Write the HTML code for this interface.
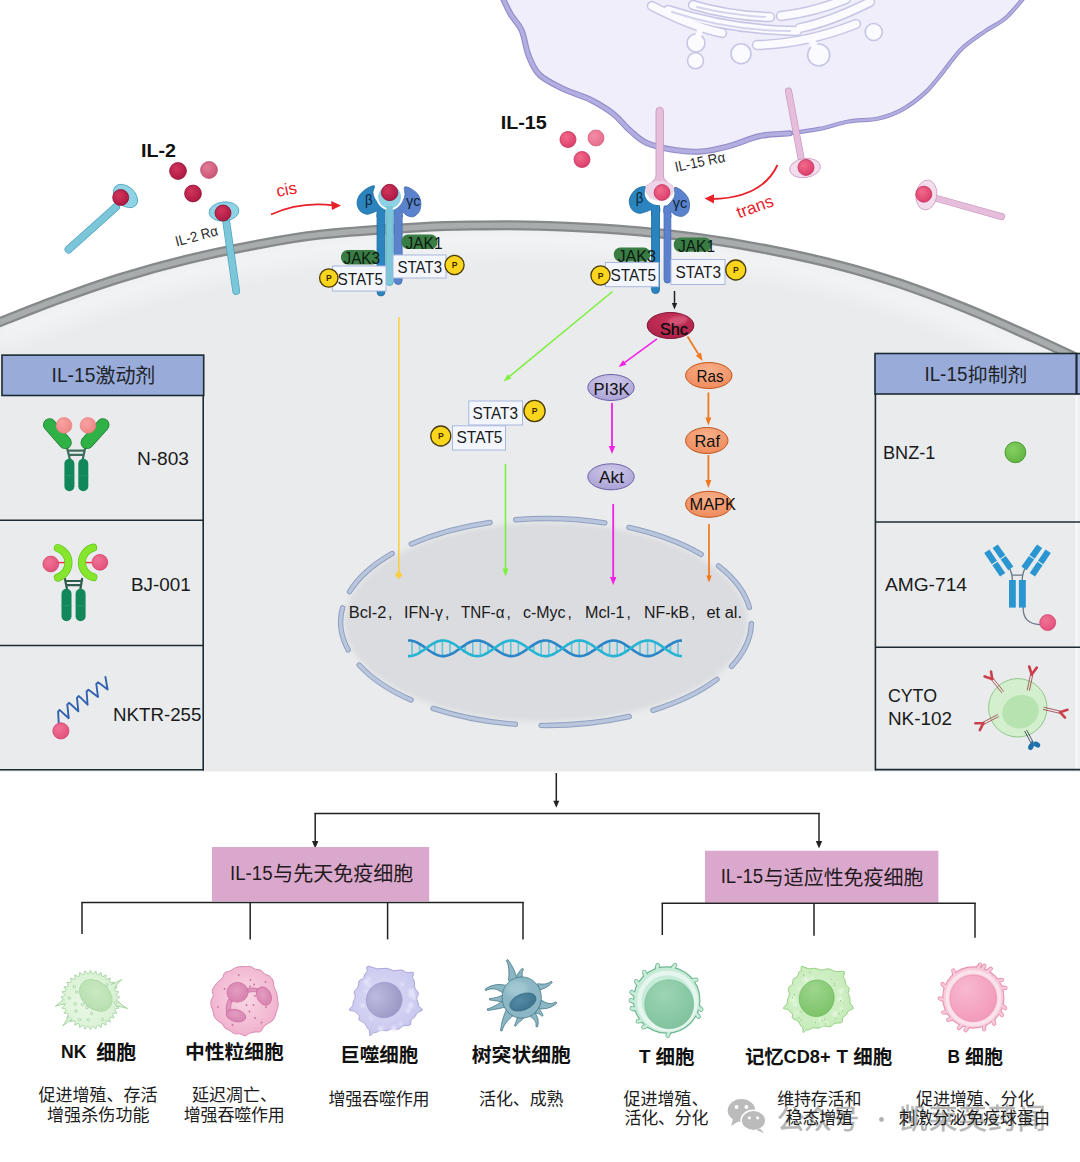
<!DOCTYPE html><html lang="zh"><head><meta charset="utf-8"><title>IL-15 signaling</title><style>html,body{margin:0;padding:0;background:#fff}body{width:1080px;height:1162px;overflow:hidden;font-family:"Liberation Sans","Noto Sans CJK SC",sans-serif}svg{display:block}</style></head><body><svg width="1080" height="1162" viewBox="0 0 1080 1162" font-family="'Liberation Sans', 'Noto Sans CJK SC', sans-serif"><defs><clipPath id="cellclip"><path d="M-4.0 323.5C-3.3 323.2 -10.7 326.1 0.0 322.0C10.7 317.9 40.0 306.1 60.0 298.8C80.0 291.5 98.9 284.6 120.0 278.1C141.1 271.6 164.5 265.1 186.7 259.7C208.9 254.2 231.1 249.6 253.3 245.4C275.5 241.2 292.2 237.6 320.0 234.6C347.8 231.6 393.3 228.7 420.0 227.2C446.7 225.7 460.0 225.7 480.0 225.4C500.0 225.2 516.7 225.0 540.0 225.7C563.3 226.4 593.3 227.7 620.0 229.8C646.7 231.9 675.0 234.9 700.0 238.3C725.0 241.7 746.5 245.4 770.0 250.0C793.5 254.6 819.0 260.2 840.7 265.8C862.4 271.4 879.0 276.5 900.0 283.6C921.0 290.8 944.5 299.7 966.7 308.7C988.9 317.7 1014.8 329.5 1033.3 337.8C1051.8 346.1 1070.5 355.1 1078.0 358.6 L1082 360 L1082 771.5 L-4 771.5 Z"/></clipPath><filter id="glow" x="-5%" y="-50%" width="110%" height="200%"><feGaussianBlur stdDeviation="9"/></filter><filter id="nbl" x="-10%" y="-10%" width="120%" height="120%"><feGaussianBlur stdDeviation="2.5"/></filter><radialGradient id="rg8" cx="0.38" cy="0.35" r="0.75"><stop offset="0" stop-color="#f7a3a0"/><stop offset="1" stop-color="#ee8484"/></radialGradient><radialGradient id="rg9" cx="0.38" cy="0.35" r="0.75"><stop offset="0" stop-color="#f7a3a0"/><stop offset="1" stop-color="#ee8484"/></radialGradient><radialGradient id="rg10" cx="0.38" cy="0.35" r="0.75"><stop offset="0" stop-color="#f07396"/><stop offset="1" stop-color="#e24d78"/></radialGradient><radialGradient id="rg11" cx="0.38" cy="0.35" r="0.75"><stop offset="0" stop-color="#f07396"/><stop offset="1" stop-color="#e24d78"/></radialGradient><radialGradient id="rg12" cx="0.38" cy="0.35" r="0.75"><stop offset="0" stop-color="#f07396"/><stop offset="1" stop-color="#e24d78"/></radialGradient><radialGradient id="rg13" cx="0.38" cy="0.35" r="0.75"><stop offset="0" stop-color="#86cf62"/><stop offset="1" stop-color="#5fb340"/></radialGradient><radialGradient id="rg14" cx="0.38" cy="0.35" r="0.75"><stop offset="0" stop-color="#f07396"/><stop offset="1" stop-color="#e24d78"/></radialGradient><radialGradient id="rg15" cx="0.38" cy="0.35" r="0.75"><stop offset="0" stop-color="#d2345c"/><stop offset="1" stop-color="#a8173f"/></radialGradient><radialGradient id="rg16" cx="0.38" cy="0.35" r="0.75"><stop offset="0" stop-color="#e27b95"/><stop offset="1" stop-color="#c85274"/></radialGradient><radialGradient id="rg17" cx="0.38" cy="0.35" r="0.75"><stop offset="0" stop-color="#d2345c"/><stop offset="1" stop-color="#a8173f"/></radialGradient><radialGradient id="rg18" cx="0.38" cy="0.35" r="0.75"><stop offset="0" stop-color="#f26a8c"/><stop offset="1" stop-color="#d93a66"/></radialGradient><radialGradient id="rg19" cx="0.38" cy="0.35" r="0.75"><stop offset="0" stop-color="#f28da6"/><stop offset="1" stop-color="#e56a8a"/></radialGradient><radialGradient id="rg20" cx="0.38" cy="0.35" r="0.75"><stop offset="0" stop-color="#f26a8c"/><stop offset="1" stop-color="#d93a66"/></radialGradient><radialGradient id="rg21" cx="0.38" cy="0.35" r="0.75"><stop offset="0" stop-color="#d2345c"/><stop offset="1" stop-color="#a8173f"/></radialGradient><radialGradient id="rg22" cx="0.38" cy="0.35" r="0.75"><stop offset="0" stop-color="#d2345c"/><stop offset="1" stop-color="#a8173f"/></radialGradient><radialGradient id="rg23" cx="0.38" cy="0.35" r="0.75"><stop offset="0" stop-color="#d2345c"/><stop offset="1" stop-color="#a8173f"/></radialGradient><radialGradient id="rg24" cx="0.38" cy="0.35" r="0.75"><stop offset="0" stop-color="#f26a8c"/><stop offset="1" stop-color="#d93a66"/></radialGradient><radialGradient id="rg25" cx="0.38" cy="0.35" r="0.75"><stop offset="0" stop-color="#f26a8c"/><stop offset="1" stop-color="#d93a66"/></radialGradient><radialGradient id="rg26" cx="0.38" cy="0.35" r="0.75"><stop offset="0" stop-color="#f26a8c"/><stop offset="1" stop-color="#d93a66"/></radialGradient><radialGradient id="eg27" cx="0.5" cy="0.3" r="0.8"><stop offset="0" stop-color="#c9335a"/><stop offset="1" stop-color="#a91f46"/></radialGradient><radialGradient id="eg28" cx="0.5" cy="0.3" r="0.8"><stop offset="0" stop-color="#cfc9ea"/><stop offset="1" stop-color="#a59dd2"/></radialGradient><radialGradient id="eg29" cx="0.5" cy="0.3" r="0.8"><stop offset="0" stop-color="#cfc9ea"/><stop offset="1" stop-color="#a59dd2"/></radialGradient><radialGradient id="eg30" cx="0.5" cy="0.3" r="0.8"><stop offset="0" stop-color="#f7b08a"/><stop offset="1" stop-color="#ee8656"/></radialGradient><radialGradient id="eg31" cx="0.5" cy="0.3" r="0.8"><stop offset="0" stop-color="#f7b08a"/><stop offset="1" stop-color="#ee8656"/></radialGradient><radialGradient id="eg32" cx="0.5" cy="0.3" r="0.8"><stop offset="0" stop-color="#f7b08a"/><stop offset="1" stop-color="#ee8656"/></radialGradient><filter id="bl1" x="-20%" y="-20%" width="140%" height="140%"><feGaussianBlur stdDeviation="1.2"/></filter><filter id="bl2" x="-20%" y="-20%" width="140%" height="140%"><feGaussianBlur stdDeviation="2.2"/></filter><radialGradient id="cg99" cx="0.4" cy="0.55" r="0.7"><stop offset="0" stop-color="#eaf8e6"/><stop offset="1" stop-color="#d3efce"/></radialGradient><radialGradient id="cg100" cx="0.45" cy="0.4" r="0.8"><stop offset="0" stop-color="#c9e9c2"/><stop offset="1" stop-color="#b3dcab"/></radialGradient><radialGradient id="cg101" cx="0.5" cy="0.45" r="0.62"><stop offset="0" stop-color="#f9d8e5"/><stop offset="1" stop-color="#efaccb"/></radialGradient><radialGradient id="cg102" cx="0.45" cy="0.4" r="0.8"><stop offset="0" stop-color="#e39dc1"/><stop offset="1" stop-color="#d47aa9"/></radialGradient><radialGradient id="cg103" cx="0.45" cy="0.45" r="0.7"><stop offset="0" stop-color="#dddcf7"/><stop offset="1" stop-color="#c3c1ec"/></radialGradient><radialGradient id="cg104" cx="0.35" cy="0.3" r="0.8"><stop offset="0" stop-color="#bdbadf"/><stop offset="1" stop-color="#9895c4"/></radialGradient><radialGradient id="cg105" cx="0.4" cy="0.35" r="0.8"><stop offset="0" stop-color="#548aa4"/><stop offset="1" stop-color="#3a6f8a"/></radialGradient><radialGradient id="cg106" cx="0.4" cy="0.3" r="0.85"><stop offset="0" stop-color="#9cd4b4"/><stop offset="1" stop-color="#7cc09a"/></radialGradient><radialGradient id="cg107" cx="0.45" cy="0.45" r="0.7"><stop offset="0" stop-color="#d9f3d0"/><stop offset="1" stop-color="#c0e9b3"/></radialGradient><radialGradient id="cg108" cx="0.35" cy="0.3" r="0.85"><stop offset="0" stop-color="#9ed68c"/><stop offset="1" stop-color="#78c064"/></radialGradient><radialGradient id="cg109" cx="0.35" cy="0.3" r="0.85"><stop offset="0" stop-color="#f8b9d0"/><stop offset="1" stop-color="#f195b6"/></radialGradient></defs><rect width="1080" height="1162" fill="#ffffff"/>
<path d="M500.8 -6.0C502.4 -2.7 507.0 7.8 510.5 13.9C514.0 20.0 518.7 23.6 521.7 30.5C524.7 37.4 525.6 48.1 528.6 55.5C531.6 62.9 533.9 69.4 539.7 75.0C545.5 80.6 554.8 84.7 563.3 88.9C571.8 93.1 582.7 95.8 591.0 100.0C599.3 104.2 606.8 108.8 613.3 113.9C619.8 119.0 624.4 125.7 630.0 130.5C635.6 135.3 639.3 139.8 646.7 143.0C654.1 146.2 665.2 148.6 674.4 150.0C683.6 151.4 692.7 152.1 702.0 151.4C711.3 150.7 720.3 148.4 730.0 145.8C739.7 143.2 750.1 138.1 760.0 136.0C769.9 133.9 779.7 134.5 789.6 133.3C799.5 132.1 809.4 130.9 819.3 128.9C829.2 126.9 839.0 123.2 848.9 121.5C858.8 119.8 869.6 120.5 878.5 118.5C887.4 116.5 894.3 114.0 902.2 109.6C910.1 105.2 919.1 98.3 926.0 91.9C932.9 85.5 937.8 78.3 943.7 71.1C949.6 63.9 954.6 55.6 961.5 48.9C968.4 42.2 977.8 36.3 985.2 31.1C992.6 25.9 999.0 24.0 1006.0 17.8C1013.0 11.6 1023.5 -2.0 1027.0 -6.0 L1027 -20 L500 -20 Z" fill="#efeefa"/>
<g fill="none" stroke-linecap="round" stroke-linejoin="round">
<path d="M652 6 Q690 26 722 33" stroke="#c6c5e6" stroke-width="10.4"/>
<path d="M668 10 Q730 30 797 31" stroke="#c6c5e6" stroke-width="10.4"/>
<path d="M693 5 Q730 16 770 17" stroke="#c6c5e6" stroke-width="10.4"/>
<path d="M781 16 Q815 12 846 -1" stroke="#c6c5e6" stroke-width="10.4"/>
<path d="M757 45 Q805 44 856 24" stroke="#c6c5e6" stroke-width="10.4"/>
<path d="M800 28 Q830 22 870 2" stroke="#c6c5e6" stroke-width="10.4"/>
<path d="M652 6 Q690 26 722 33" stroke="#fafaff" stroke-width="7.4"/>
<path d="M668 10 Q730 30 797 31" stroke="#fafaff" stroke-width="7.4"/>
<path d="M693 5 Q730 16 770 17" stroke="#fafaff" stroke-width="7.4"/>
<path d="M781 16 Q815 12 846 -1" stroke="#fafaff" stroke-width="7.4"/>
<path d="M757 45 Q805 44 856 24" stroke="#fafaff" stroke-width="7.4"/>
<path d="M800 28 Q830 22 870 2" stroke="#fafaff" stroke-width="7.4"/>
<path d="M672 12 Q730 31 790 31" stroke="#d5d4ee" stroke-width="2"/>
<path d="M697 7 Q730 15 765 17" stroke="#d5d4ee" stroke-width="2"/>
</g>
<circle cx="695.5" cy="60.7" r="8.0" fill="#fafaff" stroke="#c6c5e6" stroke-width="1.6"/>
<circle cx="741.0" cy="53.7" r="10.0" fill="#fafaff" stroke="#c6c5e6" stroke-width="1.6"/>
<circle cx="873.7" cy="32.0" r="8.5" fill="#fafaff" stroke="#c6c5e6" stroke-width="1.6"/>
<circle cx="696.0" cy="43.0" r="9.0" fill="#fafaff" stroke="#c6c5e6" stroke-width="1.6"/>
<circle cx="818.7" cy="55.0" r="11.0" fill="#fafaff" stroke="#c6c5e6" stroke-width="1.6"/>
<path d="M700 30 L697 40" stroke="#fafaff" stroke-width="6" stroke-linecap="round"/>
<path d="M812 42 L817 50" stroke="#fafaff" stroke-width="7" stroke-linecap="round"/>
<path d="M730.0 145.8C735.0 144.2 750.1 138.1 760.0 136.0C769.9 133.9 779.7 134.5 789.6 133.3C799.5 132.1 809.4 130.9 819.3 128.9C829.2 126.9 839.0 123.2 848.9 121.5C858.8 119.8 869.6 120.5 878.5 118.5C887.4 116.5 894.3 114.0 902.2 109.6C910.1 105.2 919.1 98.3 926.0 91.9C932.9 85.5 937.8 78.3 943.7 71.1C949.6 63.9 954.6 55.6 961.5 48.9C968.4 42.2 977.8 36.3 985.2 31.1C992.6 25.9 999.0 24.0 1006.0 17.8C1013.0 11.6 1023.5 -2.0 1027.0 -6.0" fill="none" stroke="#928bca" stroke-width="4.2" stroke-linecap="round"/>
<path d="M730.0 145.8C735.0 144.2 750.1 138.1 760.0 136.0C769.9 133.9 779.7 134.5 789.6 133.3C799.5 132.1 809.4 130.9 819.3 128.9C829.2 126.9 839.0 123.2 848.9 121.5C858.8 119.8 869.6 120.5 878.5 118.5C887.4 116.5 894.3 114.0 902.2 109.6C910.1 105.2 919.1 98.3 926.0 91.9C932.9 85.5 937.8 78.3 943.7 71.1C949.6 63.9 954.6 55.6 961.5 48.9C968.4 42.2 977.8 36.3 985.2 31.1C992.6 25.9 999.0 24.0 1006.0 17.8C1013.0 11.6 1023.5 -2.0 1027.0 -6.0" fill="none" stroke="#b3aee0" stroke-width="2.4" stroke-linecap="round"/>
<path d="M500.8 -6.0C502.4 -2.7 507.0 7.8 510.5 13.9C514.0 20.0 518.7 23.6 521.7 30.5C524.7 37.4 525.6 48.1 528.6 55.5C531.6 62.9 533.9 69.4 539.7 75.0C545.5 80.6 554.8 84.7 563.3 88.9C571.8 93.1 582.7 95.8 591.0 100.0C599.3 104.2 606.8 108.8 613.3 113.9C619.8 119.0 624.4 125.7 630.0 130.5C635.6 135.3 639.3 139.8 646.7 143.0C654.1 146.2 665.2 148.6 674.4 150.0C683.6 151.4 692.7 152.1 702.0 151.4C711.3 150.7 720.3 148.4 730.0 145.8C739.7 143.2 750.1 138.1 760.0 136.0C769.9 133.9 784.7 133.8 789.6 133.3" fill="none" stroke="#928bca" stroke-width="6" stroke-linecap="round"/>
<path d="M500.8 -6.0C502.4 -2.7 507.0 7.8 510.5 13.9C514.0 20.0 518.7 23.6 521.7 30.5C524.7 37.4 525.6 48.1 528.6 55.5C531.6 62.9 533.9 69.4 539.7 75.0C545.5 80.6 554.8 84.7 563.3 88.9C571.8 93.1 582.7 95.8 591.0 100.0C599.3 104.2 606.8 108.8 613.3 113.9C619.8 119.0 624.4 125.7 630.0 130.5C635.6 135.3 639.3 139.8 646.7 143.0C654.1 146.2 665.2 148.6 674.4 150.0C683.6 151.4 692.7 152.1 702.0 151.4C711.3 150.7 720.3 148.4 730.0 145.8C739.7 143.2 750.1 138.1 760.0 136.0C769.9 133.9 784.7 133.8 789.6 133.3" fill="none" stroke="#b3aee0" stroke-width="3.8" stroke-linecap="round"/>
<path d="M-4.0 323.5C-3.3 323.2 -10.7 326.1 0.0 322.0C10.7 317.9 40.0 306.1 60.0 298.8C80.0 291.5 98.9 284.6 120.0 278.1C141.1 271.6 164.5 265.1 186.7 259.7C208.9 254.2 231.1 249.6 253.3 245.4C275.5 241.2 292.2 237.6 320.0 234.6C347.8 231.6 393.3 228.7 420.0 227.2C446.7 225.7 460.0 225.7 480.0 225.4C500.0 225.2 516.7 225.0 540.0 225.7C563.3 226.4 593.3 227.7 620.0 229.8C646.7 231.9 675.0 234.9 700.0 238.3C725.0 241.7 746.5 245.4 770.0 250.0C793.5 254.6 819.0 260.2 840.7 265.8C862.4 271.4 879.0 276.5 900.0 283.6C921.0 290.8 944.5 299.7 966.7 308.7C988.9 317.7 1014.8 329.5 1033.3 337.8C1051.8 346.1 1070.5 355.1 1078.0 358.6 L1082 360 L1082 771.5 L-4 771.5 Z" fill="#e9ebed"/>
<rect x="1075" y="394" width="6" height="378" fill="#eef0f1"/>
<g clip-path="url(#cellclip)"><path d="M-4.0 323.5C-3.3 323.2 -10.7 326.1 0.0 322.0C10.7 317.9 40.0 306.1 60.0 298.8C80.0 291.5 98.9 284.6 120.0 278.1C141.1 271.6 164.5 265.1 186.7 259.7C208.9 254.2 231.1 249.6 253.3 245.4C275.5 241.2 292.2 237.6 320.0 234.6C347.8 231.6 393.3 228.7 420.0 227.2C446.7 225.7 460.0 225.7 480.0 225.4C500.0 225.2 516.7 225.0 540.0 225.7C563.3 226.4 593.3 227.7 620.0 229.8C646.7 231.9 675.0 234.9 700.0 238.3C725.0 241.7 746.5 245.4 770.0 250.0C793.5 254.6 819.0 260.2 840.7 265.8C862.4 271.4 879.0 276.5 900.0 283.6C921.0 290.8 944.5 299.7 966.7 308.7C988.9 317.7 1014.8 329.5 1033.3 337.8C1051.8 346.1 1070.5 355.1 1078.0 358.6" transform="translate(0 14)" fill="none" stroke="#ffffff" stroke-width="26" opacity="0.4" filter="url(#glow)"/></g>
<ellipse cx="546" cy="622" rx="201.4" ry="99.4" fill="#dadcdf" filter="url(#nbl)"/>
<g fill="none" stroke-linecap="round">
<path d="M411.3 544.0 A205.4 103.4 0 0 1 490.0 522.5" stroke="#8fa0bf" stroke-width="5.4"/>
<path d="M349.6 591.7 A205.4 103.4 0 0 1 392.1 553.6" stroke="#8fa0bf" stroke-width="5.4"/>
<path d="M348.2 649.9 A205.4 103.4 0 0 1 342.6 607.8" stroke="#8fa0bf" stroke-width="5.4"/>
<path d="M411.1 700.0 A205.4 103.4 0 0 1 359.2 665.0" stroke="#8fa0bf" stroke-width="5.4"/>
<path d="M515.5 724.3 A205.4 103.4 0 0 1 433.1 708.4" stroke="#8fa0bf" stroke-width="5.4"/>
<path d="M629.2 716.5 A205.4 103.4 0 0 1 541.1 725.4" stroke="#8fa0bf" stroke-width="5.4"/>
<path d="M716.9 679.4 A205.4 103.4 0 0 1 652.9 710.3" stroke="#8fa0bf" stroke-width="5.4"/>
<path d="M751.4 623.7 A205.4 103.4 0 0 1 731.5 666.4" stroke="#8fa0bf" stroke-width="5.4"/>
<path d="M718.5 565.9 A205.4 103.4 0 0 1 749.4 607.5" stroke="#8fa0bf" stroke-width="5.4"/>
<path d="M628.9 527.4 A205.4 103.4 0 0 1 701.2 554.3" stroke="#8fa0bf" stroke-width="5.4"/>
<path d="M515.7 519.7 A205.4 103.4 0 0 1 604.8 522.9" stroke="#8fa0bf" stroke-width="5.4"/>
<path d="M411.3 544.0 A205.4 103.4 0 0 1 490.0 522.5" stroke="#b9c6dd" stroke-width="3.4"/>
<path d="M349.6 591.7 A205.4 103.4 0 0 1 392.1 553.6" stroke="#b9c6dd" stroke-width="3.4"/>
<path d="M348.2 649.9 A205.4 103.4 0 0 1 342.6 607.8" stroke="#b9c6dd" stroke-width="3.4"/>
<path d="M411.1 700.0 A205.4 103.4 0 0 1 359.2 665.0" stroke="#b9c6dd" stroke-width="3.4"/>
<path d="M515.5 724.3 A205.4 103.4 0 0 1 433.1 708.4" stroke="#b9c6dd" stroke-width="3.4"/>
<path d="M629.2 716.5 A205.4 103.4 0 0 1 541.1 725.4" stroke="#b9c6dd" stroke-width="3.4"/>
<path d="M716.9 679.4 A205.4 103.4 0 0 1 652.9 710.3" stroke="#b9c6dd" stroke-width="3.4"/>
<path d="M751.4 623.7 A205.4 103.4 0 0 1 731.5 666.4" stroke="#b9c6dd" stroke-width="3.4"/>
<path d="M718.5 565.9 A205.4 103.4 0 0 1 749.4 607.5" stroke="#b9c6dd" stroke-width="3.4"/>
<path d="M628.9 527.4 A205.4 103.4 0 0 1 701.2 554.3" stroke="#b9c6dd" stroke-width="3.4"/>
<path d="M515.7 519.7 A205.4 103.4 0 0 1 604.8 522.9" stroke="#b9c6dd" stroke-width="3.4"/>
</g>
<path d="M-4.0 323.5C-3.3 323.2 -10.7 326.1 0.0 322.0C10.7 317.9 40.0 306.1 60.0 298.8C80.0 291.5 98.9 284.6 120.0 278.1C141.1 271.6 164.5 265.1 186.7 259.7C208.9 254.2 231.1 249.6 253.3 245.4C275.5 241.2 292.2 237.6 320.0 234.6C347.8 231.6 393.3 228.7 420.0 227.2C446.7 225.7 460.0 225.7 480.0 225.4C500.0 225.2 516.7 225.0 540.0 225.7C563.3 226.4 593.3 227.7 620.0 229.8C646.7 231.9 675.0 234.9 700.0 238.3C725.0 241.7 746.5 245.4 770.0 250.0C793.5 254.6 819.0 260.2 840.7 265.8C862.4 271.4 879.0 276.5 900.0 283.6C921.0 290.8 944.5 299.7 966.7 308.7C988.9 317.7 1014.8 329.5 1033.3 337.8C1051.8 346.1 1070.5 355.1 1078.0 358.6" fill="none" stroke="#858989" stroke-width="10"/>
<path d="M-4.0 323.5C-3.3 323.2 -10.7 326.1 0.0 322.0C10.7 317.9 40.0 306.1 60.0 298.8C80.0 291.5 98.9 284.6 120.0 278.1C141.1 271.6 164.5 265.1 186.7 259.7C208.9 254.2 231.1 249.6 253.3 245.4C275.5 241.2 292.2 237.6 320.0 234.6C347.8 231.6 393.3 228.7 420.0 227.2C446.7 225.7 460.0 225.7 480.0 225.4C500.0 225.2 516.7 225.0 540.0 225.7C563.3 226.4 593.3 227.7 620.0 229.8C646.7 231.9 675.0 234.9 700.0 238.3C725.0 241.7 746.5 245.4 770.0 250.0C793.5 254.6 819.0 260.2 840.7 265.8C862.4 271.4 879.0 276.5 900.0 283.6C921.0 290.8 944.5 299.7 966.7 308.7C988.9 317.7 1014.8 329.5 1033.3 337.8C1051.8 346.1 1070.5 355.1 1078.0 358.6" fill="none" stroke="#a9acac" stroke-width="5.4"/>
<rect x="2" y="355.1" width="201.7" height="40.4" fill="#98abd9" stroke="#1c2b33" stroke-width="1.6"/>
<line x1="203.2" y1="395.0" x2="203.2" y2="770.6" stroke="#1c2b33" stroke-width="1.6" stroke-linecap="butt"/>
<line x1="0.0" y1="520.3" x2="203.2" y2="520.3" stroke="#1c2b33" stroke-width="1.5" stroke-linecap="butt"/>
<line x1="0.0" y1="645.6" x2="203.2" y2="645.6" stroke="#1c2b33" stroke-width="1.5" stroke-linecap="butt"/>
<line x1="0.0" y1="769.8" x2="204.0" y2="769.8" stroke="#1c2b33" stroke-width="1.6" stroke-linecap="butt"/>
<rect x="875" y="353.5" width="207" height="40.5" fill="#98abd9" stroke="#1c2b33" stroke-width="1.6"/>
<line x1="1076.5" y1="353.0" x2="1076.5" y2="394.5" stroke="#1c2b33" stroke-width="2.2" stroke-linecap="butt"/>
<line x1="1076.5" y1="395.0" x2="1076.5" y2="769.0" stroke="#fbfbfb" stroke-width="1.6" stroke-linecap="butt"/>
<line x1="875.4" y1="394.0" x2="875.4" y2="770.4" stroke="#1c2b33" stroke-width="1.6" stroke-linecap="butt"/>
<line x1="876.0" y1="522.0" x2="1080.0" y2="522.0" stroke="#1c2b33" stroke-width="1.5" stroke-linecap="butt"/>
<line x1="876.0" y1="647.2" x2="1080.0" y2="647.2" stroke="#1c2b33" stroke-width="1.5" stroke-linecap="butt"/>
<line x1="875.3" y1="769.6" x2="1080.0" y2="769.6" stroke="#1c2b33" stroke-width="1.6" stroke-linecap="butt"/>
<text x="51.6" y="381.8" font-size="20.8" fill="#1d2328" textLength="43.8" lengthAdjust="spacingAndGlyphs">IL-15</text>
<text x="95.6" y="382.6" font-size="20" fill="#1d2328" textLength="59.7">激动剂</text>
<text x="924.4" y="380.7" font-size="20.5" fill="#1d2328" textLength="43.0" lengthAdjust="spacingAndGlyphs">IL-15</text>
<text x="967.8" y="381.5" font-size="19.8" fill="#1d2328" textLength="59.5">抑制剂</text>
<text x="136.9" y="465.3" font-size="18.4" fill="#1a1a1a" textLength="52.1" lengthAdjust="spacingAndGlyphs">N-803</text>
<text x="131.0" y="590.5" font-size="18.2" fill="#1a1a1a" textLength="59.7" lengthAdjust="spacingAndGlyphs">BJ-001</text>
<text x="113.0" y="721.4" font-size="18.2" fill="#1a1a1a" textLength="88.4" lengthAdjust="spacingAndGlyphs">NKTR-255</text>
<text x="883.0" y="458.8" font-size="18.4" fill="#1a1a1a" textLength="52.4" lengthAdjust="spacingAndGlyphs">BNZ-1</text>
<text x="884.9" y="590.7" font-size="18.2" fill="#1a1a1a" textLength="82.1" lengthAdjust="spacingAndGlyphs">AMG-714</text>
<text x="887.9" y="702.4" font-size="18.6" fill="#1a1a1a" textLength="49.1" lengthAdjust="spacingAndGlyphs">CYTO</text>
<text x="887.9" y="724.6" font-size="18.4" fill="#1a1a1a" textLength="64.1" lengthAdjust="spacingAndGlyphs">NK-102</text>
<g stroke="#3f6f5c" stroke-width="2.2" fill="none" stroke-linecap="round">
<path d="M66.8 447 L69.8 459 M85.4 447 L82.8 459 M69 450.6 H83.6 M69.6 454.8 H83"/>
</g>
<rect x="64.4" y="458.7" width="10" height="32.5" rx="5" fill="#12875a"/>
<rect x="64.4" y="474.9" width="10" height="1.2" fill="#2a9a6e" opacity="0.6"/>
<rect x="78.3" y="458.7" width="10" height="32.5" rx="5" fill="#12875a"/>
<rect x="78.3" y="474.9" width="10" height="1.2" fill="#2a9a6e" opacity="0.6"/>
<g stroke-linecap="round">
<line x1="49.5" y1="424.8" x2="65.3" y2="442.6" stroke="#1e7a36" stroke-width="13"/>
<line x1="103" y1="424.8" x2="87" y2="442.6" stroke="#1e7a36" stroke-width="13"/>
<line x1="49.5" y1="424.8" x2="65.3" y2="442.6" stroke="#2fb146" stroke-width="11.6"/>
<line x1="103" y1="424.8" x2="87" y2="442.6" stroke="#2fb146" stroke-width="11.6"/>
</g>
<circle cx="64.0" cy="425.4" r="7.9" fill="url(#rg8)" stroke="#e87a7a" stroke-width="0.6"/>
<circle cx="88.0" cy="425.4" r="7.9" fill="url(#rg9)" stroke="#e87a7a" stroke-width="0.6"/>
<g stroke="#2f5c4c" stroke-width="2.2" fill="none" stroke-linecap="round">
<path d="M64.9 578.8 L67 589 M82.1 578.8 L80.4 589 M66.4 581 H81.2 M66.8 585.2 H80.6"/>
</g>
<rect x="61.5" y="588.7" width="10" height="32.5" rx="5" fill="#12875a"/>
<rect x="61.5" y="605.0" width="10" height="1.2" fill="#2a9a6e" opacity="0.6"/>
<rect x="75.6" y="588.7" width="10" height="32.5" rx="5" fill="#12875a"/>
<rect x="75.6" y="605.0" width="10" height="1.2" fill="#2a9a6e" opacity="0.6"/>
<line x1="56.0" y1="562.6" x2="65.0" y2="562.6" stroke="#f0323c" stroke-width="1.4" stroke-linecap="butt"/>
<line x1="85.0" y1="562.6" x2="94.0" y2="562.6" stroke="#f0323c" stroke-width="1.4" stroke-linecap="butt"/>
<g fill="none" stroke-linecap="round">
<path d="M57.8 548 A15.6 15.6 0 0 1 57.8 577.6" stroke="#62c41c" stroke-width="8"/>
<path d="M93.2 547.6 A15.3 15.3 0 0 0 93.4 577.2" stroke="#62c41c" stroke-width="8"/>
<path d="M57.8 548 A15.6 15.6 0 0 1 57.8 577.6" stroke="#86e62e" stroke-width="6.6"/>
<path d="M93.2 547.6 A15.3 15.3 0 0 0 93.4 577.2" stroke="#86e62e" stroke-width="6.6"/>
</g>
<circle cx="50.8" cy="564.0" r="7.9" fill="url(#rg10)" stroke="#cf3f6b" stroke-width="0.7"/>
<circle cx="99.9" cy="562.3" r="7.9" fill="url(#rg11)" stroke="#cf3f6b" stroke-width="0.7"/>
<polyline points="58.7,722.4 58.1,711.6 59.6,709.9 61.2,711.4 68.7,718.2 67.3,704.6 69.0,702.8 70.8,704.2 78.3,711.4 77.0,697.9 78.6,696.0 80.4,697.4 87.6,704.7 86.6,691.5 88.4,689.7 90.2,691.0 98.0,697.0 96.3,684.0 98.0,682.3 99.8,683.6 107.6,689.5 105.4,676.9" fill="none" stroke="#3162ad" stroke-width="1.9" stroke-linejoin="round" stroke-linecap="round"/>
<circle cx="60.9" cy="730.9" r="8.1" fill="url(#rg12)" stroke="#cf3f6b" stroke-width="0.7"/>
<circle cx="1015.4" cy="452.3" r="10.4" fill="url(#rg13)" stroke="#4a9a33" stroke-width="1.0"/>
<g fill="none" stroke="#6a7a88" stroke-width="1.3">
<path d="M1008.5 567 Q1012.4 572 1012.4 581 M1026 567 Q1022.2 572 1022.2 581 M1012.6 575.2 H1022"/>
<path d="M1023.2 607 Q1022.5 624 1040 624.6"/>
</g>
<line x1="986.8" y1="551.2" x2="994.4" y2="562.6" stroke="#2a96d1" stroke-width="6.3"/>
<line x1="995.0" y1="563.4" x2="1002.6" y2="574.8" stroke="#2a96d1" stroke-width="6.3"/>
<line x1="995.2" y1="546.2" x2="1002.7" y2="556.9" stroke="#2a96d1" stroke-width="6.3"/>
<line x1="1003.3" y1="557.7" x2="1010.8" y2="568.4" stroke="#2a96d1" stroke-width="6.3"/>
<line x1="1048.2" y1="551.2" x2="1040.6" y2="562.6" stroke="#2a96d1" stroke-width="6.3"/>
<line x1="1040.0" y1="563.4" x2="1032.4" y2="574.8" stroke="#2a96d1" stroke-width="6.3"/>
<line x1="1039.6" y1="546.2" x2="1032.1" y2="556.9" stroke="#2a96d1" stroke-width="6.3"/>
<line x1="1031.5" y1="557.7" x2="1024.0" y2="568.4" stroke="#2a96d1" stroke-width="6.3"/>
<rect x="1009" y="580" width="6.8" height="27.6" fill="#2a96d1"/>
<rect x="1018.9" y="580" width="6.9" height="27.6" fill="#2a96d1"/>
<circle cx="1047.7" cy="622.6" r="8.0" fill="url(#rg14)" stroke="#cf3f6b" stroke-width="0.7"/>
<circle cx="1017.8" cy="707.8" r="29.2" fill="#d3efce" stroke="#8fc98a" stroke-width="1"/>
<ellipse cx="1020.6" cy="711.7" rx="18.5" ry="16.5" fill="#b7e3b0" transform="rotate(-20 1020.6 711.7)"/>
<line x1="1001.9" y1="692.9" x2="991.3" y2="679.6" stroke="#9a3a3a" stroke-width="0.8"/>
<line x1="1003.7" y1="691.5" x2="993.1" y2="678.2" stroke="#9a3a3a" stroke-width="0.8"/>
<line x1="992.2" y1="678.9" x2="984.6" y2="676.4" stroke="#c9414d" stroke-width="2.6" stroke-linecap="round"/>
<line x1="992.2" y1="678.9" x2="991.0" y2="671.5" stroke="#c9414d" stroke-width="2.6" stroke-linecap="round"/>
<line x1="1027.2" y1="690.3" x2="1030.6" y2="674.2" stroke="#9a3a3a" stroke-width="0.8"/>
<line x1="1029.4" y1="690.7" x2="1032.8" y2="674.6" stroke="#9a3a3a" stroke-width="0.8"/>
<line x1="1031.7" y1="674.4" x2="1029.2" y2="666.5" stroke="#c9414d" stroke-width="2.6" stroke-linecap="round"/>
<line x1="1031.7" y1="674.4" x2="1036.8" y2="667.6" stroke="#c9414d" stroke-width="2.6" stroke-linecap="round"/>
<line x1="1043.6" y1="707.2" x2="1060.3" y2="711.1" stroke="#9a3a3a" stroke-width="0.8"/>
<line x1="1043.0" y1="709.4" x2="1059.7" y2="713.3" stroke="#9a3a3a" stroke-width="0.8"/>
<line x1="1060.0" y1="712.2" x2="1067.5" y2="709.8" stroke="#c9414d" stroke-width="2.6" stroke-linecap="round"/>
<line x1="1060.0" y1="712.2" x2="1065.0" y2="717.6" stroke="#c9414d" stroke-width="2.6" stroke-linecap="round"/>
<line x1="998.8" y1="716.5" x2="983.8" y2="724.3" stroke="#9a3a3a" stroke-width="0.8"/>
<line x1="997.8" y1="714.5" x2="982.8" y2="722.3" stroke="#9a3a3a" stroke-width="0.8"/>
<line x1="983.3" y1="723.3" x2="975.4" y2="723.3" stroke="#c9414d" stroke-width="2.6" stroke-linecap="round"/>
<line x1="983.3" y1="723.3" x2="979.8" y2="730.2" stroke="#c9414d" stroke-width="2.6" stroke-linecap="round"/>
<line x1="1026.6" y1="730.0" x2="1033.2" y2="742.3" stroke="#234" stroke-width="0.8"/>
<line x1="1024.6" y1="731.0" x2="1031.2" y2="743.3" stroke="#234" stroke-width="0.8"/>
<line x1="1032.2" y1="742.8" x2="1032.2" y2="742.8" stroke="#1f6fa8" stroke-width="2.6" stroke-linecap="round"/>
<line x1="1032.2" y1="742.8" x2="1032.2" y2="742.8" stroke="#1f6fa8" stroke-width="2.6" stroke-linecap="round"/>
<ellipse cx="1031" cy="746.6" rx="2.6" ry="3.6" fill="#1f6fa8" transform="rotate(25 1031 746.6)"/>
<ellipse cx="1036.8" cy="744.6" rx="2.6" ry="3.6" fill="#1f6fa8" transform="rotate(-60 1036.8 744.6)"/>
<text x="141.0" y="157.0" font-size="18.5" fill="#111" font-weight="bold" textLength="35.0" lengthAdjust="spacingAndGlyphs">IL-2</text>
<circle cx="178.0" cy="171.0" r="8.4" fill="url(#rg15)" stroke="#8f1236" stroke-width="0.8"/>
<circle cx="209.0" cy="170.0" r="8.4" fill="url(#rg16)" stroke="#b84a6a" stroke-width="0.8"/>
<circle cx="193.0" cy="193.5" r="8.4" fill="url(#rg17)" stroke="#8f1236" stroke-width="0.8"/>
<text x="500.8" y="129.0" font-size="18.5" fill="#111" font-weight="bold" textLength="46.0" lengthAdjust="spacingAndGlyphs">IL-15</text>
<circle cx="568.0" cy="139.5" r="8.0" fill="url(#rg18)" stroke="#c42f5a" stroke-width="0.8"/>
<circle cx="596.0" cy="138.0" r="8.0" fill="url(#rg19)" stroke="#d65f80" stroke-width="0.8"/>
<circle cx="582.0" cy="159.5" r="8.0" fill="url(#rg20)" stroke="#c42f5a" stroke-width="0.8"/>
<line x1="116.0" y1="207.0" x2="68.5" y2="249.5" stroke="#4aa3bd" stroke-width="7.8" stroke-linecap="round"/>
<line x1="116.0" y1="207.0" x2="68.5" y2="249.5" stroke="#7cc6da" stroke-width="6.4" stroke-linecap="round"/>
<ellipse cx="125.5" cy="196" rx="14" ry="9.5" fill="#8fd3e4" stroke="#4aa3bd" stroke-width="0.8" transform="rotate(42 125.5 196)"/>
<circle cx="120.7" cy="197.5" r="8.0" fill="url(#rg21)" stroke="#8f1236" stroke-width="0.8"/>
<line x1="226.3" y1="222.0" x2="236.2" y2="291.0" stroke="#4aa3bd" stroke-width="7.8" stroke-linecap="round"/>
<line x1="226.3" y1="222.0" x2="236.2" y2="291.0" stroke="#7cc6da" stroke-width="6.4" stroke-linecap="round"/>
<ellipse cx="224" cy="211.5" rx="15" ry="9.6" fill="#8fd3e4" stroke="#4aa3bd" stroke-width="0.8" transform="rotate(-6 224 211.5)"/>
<circle cx="223.0" cy="213.0" r="8.0" fill="url(#rg22)" stroke="#8f1236" stroke-width="0.8"/>
<text x="176.8" y="246.4" font-size="14.4" fill="#2a2a2a" textLength="43.5" lengthAdjust="spacingAndGlyphs" transform="rotate(-15.0 176.8 246.4)">IL-2 Rα</text>
<path d="M271 214.5 Q300 201 334 205.4" fill="none" stroke="#e8202a" stroke-width="1.8"/>
<polygon points="341,205.6 331,201 332,210" fill="#e8202a"/>
<text x="277.5" y="197.0" font-size="17.0" fill="#e8202a" textLength="20.5" lengthAdjust="spacingAndGlyphs" transform="rotate(-11.0 277.5 197.0)">cis</text>
<path d="M777.5 165 Q762 198 712 199" fill="none" stroke="#e8202a" stroke-width="1.8"/>
<polygon points="704.5,198.4 714,194.2 714,203.4" fill="#e8202a"/>
<text x="739.0" y="218.5" font-size="17.0" fill="#e8202a" textLength="38.0" lengthAdjust="spacingAndGlyphs" transform="rotate(-20.0 739.0 218.5)">trans</text>
<path d="M377.1 205.0 V292.1 a3.85 3.85 0 0 0 7.7 0 V205.0 Z" fill="#2b84bd" stroke="#1f6da3" stroke-width="0.9"/>
<path d="M394.3 206.0 V280.6 a3.90 3.90 0 0 0 7.8 0 V206.0 Z" fill="#5b82cc" stroke="#4a6cb4" stroke-width="0.9"/>
<path d="M374.2 185.8C373.0 185.2 368.3 187.5 365.8 189.2C363.3 190.9 360.6 193.5 359.2 195.8C357.8 198.2 357.0 200.8 357.1 203.3C357.2 205.8 358.4 209.0 360.0 210.8C361.6 212.6 364.5 213.9 366.7 214.2C368.9 214.5 371.5 213.0 373.3 212.5C375.1 212.0 376.6 210.5 377.3 211.3C378.0 212.1 376.1 217.1 377.3 217.3C378.5 217.5 383.4 214.1 384.6 212.3C385.8 210.5 385.4 207.7 384.6 206.3C383.8 205.0 381.6 205.4 380.0 204.2C378.4 203.0 376.2 201.1 375.0 199.2C373.8 197.2 373.0 194.7 372.9 192.5C372.8 190.3 375.4 186.4 374.2 185.8Z" fill="#2b84bd" stroke="#1f6da3" stroke-width="0.9" stroke-linejoin="round"/>
<path d="M404.6 187.1C405.7 186.1 409.4 187.9 411.7 189.2C414.0 190.5 416.8 192.7 418.3 195.0C419.8 197.3 420.7 200.5 420.8 203.3C420.9 206.1 420.4 209.5 419.2 211.7C417.9 213.9 415.4 216.1 413.3 216.7C411.2 217.3 408.6 216.2 406.7 215.4C404.8 214.6 402.8 211.3 402.0 211.7C401.2 212.1 403.2 217.3 402.0 217.7C400.8 218.1 395.8 215.5 394.5 213.9C393.2 212.3 393.9 209.2 394.5 207.9C395.1 206.6 397.0 206.8 398.3 205.8C399.6 204.8 401.4 203.5 402.5 201.7C403.6 199.9 404.6 197.4 405.0 195.0C405.4 192.6 403.5 188.1 404.6 187.1Z" fill="#5b82cc" stroke="#4a6cb4" stroke-width="0.9" stroke-linejoin="round"/>
<rect x="377.6" y="207" width="6.7" height="12" fill="#2b84bd"/>
<rect x="394.8" y="208.5" width="6.8" height="12" fill="#5b82cc"/>
<path d="M385.9 204.0 V281.8 a3.70 3.70 0 0 0 7.4 0 V204.0 Z" fill="#7cc6da" stroke="#58aec6" stroke-width="0.9"/>
<circle cx="389.6" cy="197" r="12.3" fill="#8ed1e2" stroke="#ffffff" stroke-width="1.8"/>
<rect x="386.4" y="206" width="6.4" height="8" fill="#7cc6da"/>
<circle cx="389.6" cy="192.5" r="8.2" fill="url(#rg23)" stroke="#8f1236" stroke-width="0.8"/>
<path d="M651.6 204.0 V289.6 a3.95 3.95 0 0 0 7.9 0 V204.0 Z" fill="#2b84bd" stroke="#1f6da3" stroke-width="0.9"/>
<path d="M664.1 206.0 V279.7 a3.35 3.35 0 0 0 6.7 0 V206.0 Z" fill="#5b82cc" stroke="#4a6cb4" stroke-width="0.9"/>
<path d="M645.3 186.7C643.6 185.9 638.7 187.5 636.2 189.2C633.7 190.9 631.4 194.3 630.3 196.7C629.2 199.0 629.1 201.1 629.5 203.3C629.9 205.5 630.7 208.3 632.4 210.0C634.1 211.7 637.1 213.1 639.5 213.3C641.9 213.5 645.0 211.9 647.0 211.3C649.0 210.8 651.0 209.2 651.8 210.0C652.6 210.8 650.5 215.6 651.8 216.0C653.0 216.4 658.0 214.2 659.3 212.7C660.5 211.1 659.8 208.0 659.3 206.7C658.8 205.4 657.7 206.0 656.2 205.0C654.7 204.0 652.0 202.6 650.3 200.8C648.6 199.0 647.0 196.5 646.2 194.2C645.4 191.8 647.0 187.5 645.3 186.7Z" fill="#2b84bd" stroke="#1f6da3" stroke-width="0.9" stroke-linejoin="round"/>
<path d="M674.5 187.5C675.8 186.8 679.8 189.1 682.0 190.8C684.2 192.5 686.5 195.1 687.8 197.5C689.0 199.9 689.5 202.5 689.5 205.0C689.5 207.5 689.0 210.6 687.8 212.5C686.5 214.4 684.1 215.9 682.0 216.3C679.9 216.7 677.2 215.8 675.3 215.0C673.4 214.2 671.5 211.2 670.7 211.7C669.9 212.1 671.8 217.4 670.7 217.7C669.6 218.0 665.4 215.2 664.3 213.5C663.2 211.8 663.8 208.8 664.3 207.5C664.8 206.2 665.9 206.8 667.0 205.8C668.1 204.8 670.0 203.5 671.2 201.7C672.4 199.9 673.6 197.4 674.1 195.0C674.6 192.6 673.2 188.2 674.5 187.5Z" fill="#5b82cc" stroke="#4a6cb4" stroke-width="0.9" stroke-linejoin="round"/>
<rect x="652.1" y="206" width="6.9" height="12" fill="#2b84bd"/>
<rect x="664.6" y="208" width="5.7" height="12" fill="#5b82cc"/>
<path d="M656 111 a3.6 3.6 0 0 1 7.4 0 V176 Q664 181 673 186 L646 186 Q655 181 656 176 Z" fill="#e6bedb" stroke="#c99bc0" stroke-width="0.9"/>
<ellipse cx="659.6" cy="193.2" rx="14.8" ry="12" fill="#ffffff"/>
<path d="M645 190 Q646 181.5 659.6 181 Q673.5 181.5 674.3 190 Q672 200 659.6 201 Q647 200 645 190Z" fill="#edd3e6"/>
<circle cx="662.0" cy="192.5" r="7.9" fill="url(#rg24)" stroke="#c42f5a" stroke-width="0.8"/>
<text x="365.0" y="205.0" font-size="14.5" fill="#0e2233" textLength="7.5" lengthAdjust="spacingAndGlyphs">β</text>
<text x="406.0" y="206.0" font-size="14.5" fill="#0e2233" textLength="14.5" lengthAdjust="spacingAndGlyphs">γc</text>
<text x="635.7" y="202.5" font-size="14.5" fill="#0e2233" textLength="7.5" lengthAdjust="spacingAndGlyphs">β</text>
<text x="672.8" y="208.3" font-size="14.5" fill="#0e2233" textLength="14.5" lengthAdjust="spacingAndGlyphs">γc</text>
<text x="676.0" y="172.0" font-size="14.4" fill="#2a2a2a" textLength="51.0" lengthAdjust="spacingAndGlyphs" transform="rotate(-11.8 676.0 172.0)">IL-15 Rα</text>
<line x1="788.5" y1="91.0" x2="801.0" y2="158.0" stroke="#c99bc0" stroke-width="7.0" stroke-linecap="round"/>
<line x1="788.5" y1="91.0" x2="801.0" y2="158.0" stroke="#e6bedb" stroke-width="5.6" stroke-linecap="round"/>
<ellipse cx="805" cy="168" rx="15.5" ry="9.6" fill="#f3dcec" stroke="#c99bc0" stroke-width="0.8" transform="rotate(-8 805 168)"/>
<circle cx="806.0" cy="167.4" r="8.0" fill="url(#rg25)" stroke="#c42f5a" stroke-width="0.8"/>
<line x1="937.0" y1="198.5" x2="1001.6" y2="216.6" stroke="#c99bc0" stroke-width="7.0" stroke-linecap="round"/>
<line x1="937.0" y1="198.5" x2="1001.6" y2="216.6" stroke="#e6bedb" stroke-width="5.6" stroke-linecap="round"/>
<ellipse cx="926.4" cy="195" rx="10.4" ry="15" fill="#f3dcec" stroke="#c99bc0" stroke-width="0.8" transform="rotate(8 926.4 195)"/>
<circle cx="923.8" cy="194.2" r="8.0" fill="url(#rg26)" stroke="#c42f5a" stroke-width="0.8"/>
<rect x="341.0" y="250.0" width="38.0" height="14.5" rx="6.5" fill="#3a7d44"/>
<text x="343.5" y="263.5" font-size="16.0" fill="#0d1a12" textLength="36.5" lengthAdjust="spacingAndGlyphs">JAK3</text>
<rect x="401.5" y="234.5" width="36.0" height="14.5" rx="6.5" fill="#3a7d44"/>
<text x="405.5" y="249.0" font-size="16.0" fill="#0d1a12" textLength="37.0" lengthAdjust="spacingAndGlyphs">JAK1</text>
<rect x="393.0" y="255.0" width="53.0" height="23.0" fill="#f3f6fc" stroke="#a9b7df" stroke-width="1"/>
<text x="397.5" y="272.5" font-size="16.4" fill="#1a1a1a" textLength="44.5" lengthAdjust="spacingAndGlyphs">STAT3</text>
<rect x="332.5" y="266.0" width="53.5" height="25.0" fill="#f3f6fc" stroke="#a9b7df" stroke-width="1"/>
<text x="337.5" y="285.0" font-size="16.4" fill="#1a1a1a" textLength="45.5" lengthAdjust="spacingAndGlyphs">STAT5</text>
<circle cx="454.5" cy="265.0" r="9.6" fill="#fad51e" stroke="#4a3b05" stroke-width="1.3"/>
<text x="454.5" y="268.1" font-size="8.6" fill="#3a2c00" text-anchor="middle" font-weight="bold">P</text>
<circle cx="328.8" cy="278.0" r="9.2" fill="#fad51e" stroke="#4a3b05" stroke-width="1.3"/>
<text x="328.8" y="281.1" font-size="8.6" fill="#3a2c00" text-anchor="middle" font-weight="bold">P</text>
<rect x="613.8" y="247.5" width="36.5" height="14.0" rx="6.5" fill="#3a7d44"/>
<text x="617.5" y="261.5" font-size="16.0" fill="#0d1a12" textLength="38.5" lengthAdjust="spacingAndGlyphs">JAK3</text>
<rect x="673.8" y="237.5" width="37.5" height="14.3" rx="6.5" fill="#3a7d44"/>
<text x="678.0" y="251.5" font-size="16.0" fill="#0d1a12" textLength="37.0" lengthAdjust="spacingAndGlyphs">JAK1</text>
<rect x="605.5" y="262.5" width="53.3" height="24.2" fill="#f3f6fc" stroke="#a9b7df" stroke-width="1"/>
<text x="610.5" y="281.0" font-size="16.4" fill="#1a1a1a" textLength="45.5" lengthAdjust="spacingAndGlyphs">STAT5</text>
<rect x="671.0" y="259.5" width="54.0" height="25.0" fill="#f3f6fc" stroke="#a9b7df" stroke-width="1"/>
<text x="675.5" y="278.0" font-size="16.4" fill="#1a1a1a" textLength="45.5" lengthAdjust="spacingAndGlyphs">STAT3</text>
<circle cx="600.5" cy="275.5" r="9.6" fill="#fad51e" stroke="#4a3b05" stroke-width="1.3"/>
<text x="600.5" y="278.6" font-size="8.6" fill="#3a2c00" text-anchor="middle" font-weight="bold">P</text>
<circle cx="735.8" cy="270.0" r="10.0" fill="#fad51e" stroke="#4a3b05" stroke-width="1.3"/>
<text x="735.8" y="273.1" font-size="8.6" fill="#3a2c00" text-anchor="middle" font-weight="bold">P</text>
<rect x="468.8" y="401.0" width="53.7" height="24.0" fill="#f3f6fc" stroke="#a9b7df" stroke-width="1"/>
<text x="472.5" y="418.6" font-size="16.4" fill="#1a1a1a" textLength="45.5" lengthAdjust="spacingAndGlyphs">STAT3</text>
<rect x="452.5" y="425.8" width="53.0" height="24.2" fill="#f3f6fc" stroke="#a9b7df" stroke-width="1"/>
<text x="456.5" y="443.0" font-size="16.4" fill="#1a1a1a" textLength="46.0" lengthAdjust="spacingAndGlyphs">STAT5</text>
<circle cx="534.5" cy="411.0" r="10.6" fill="#fad51e" stroke="#4a3b05" stroke-width="1.3"/>
<text x="534.5" y="414.1" font-size="8.6" fill="#3a2c00" text-anchor="middle" font-weight="bold">P</text>
<circle cx="440.8" cy="436.0" r="10.0" fill="#fad51e" stroke="#4a3b05" stroke-width="1.3"/>
<text x="440.8" y="439.1" font-size="8.6" fill="#3a2c00" text-anchor="middle" font-weight="bold">P</text>
<line x1="398.8" y1="317.0" x2="398.8" y2="574.0" stroke="#f8cf45" stroke-width="1.6" stroke-linecap="butt"/>
<polygon points="398.8,570.5 402.6,574.8 398.8,579.2 395,574.8" fill="#f8cf45"/>
<line x1="612.5" y1="291.5" x2="509.3" y2="376.7" stroke="#7cf03c" stroke-width="1.5" stroke-linecap="butt"/>
<polygon points="503.5,381.5 507.9,374.3 511.4,378.5" fill="#7cf03c"/>
<line x1="505.5" y1="463.8" x2="505.5" y2="569.0" stroke="#7cf03c" stroke-width="1.6" stroke-linecap="butt"/>
<polygon points="505.5,576.5 502.5,568.5 508.5,568.5" fill="#7cf03c"/>
<line x1="674.5" y1="291.0" x2="674.5" y2="303.5" stroke="#222" stroke-width="1.5" stroke-linecap="butt"/>
<polygon points="674.5,309.5 671.8,303.0 677.2,303.0" fill="#222"/>
<line x1="657.0" y1="338.8" x2="624.2" y2="362.9" stroke="#f320e6" stroke-width="1.5" stroke-linecap="butt"/>
<polygon points="618.6,367.0 623.0,360.3 626.3,364.8" fill="#f320e6"/>
<line x1="687.5" y1="336.5" x2="698.7" y2="354.6" stroke="#f0781e" stroke-width="1.8" stroke-linecap="butt"/>
<polygon points="702.6,361.0 695.8,355.8 701.0,352.6" fill="#f0781e"/>
<ellipse cx="670.5" cy="325.5" rx="23.3" ry="13.0" fill="url(#eg27)" stroke="#7d1433" stroke-width="1"/>
<text x="660.0" y="335.0" font-size="17.0" fill="#111" textLength="28.0" lengthAdjust="spacingAndGlyphs">Shc</text>
<ellipse cx="678" cy="320.5" rx="10" ry="4.6" fill="#e0708c" opacity="0.55" transform="rotate(-12 678 320.5)" filter="url(#bl1)"/>
<text x="660.0" y="335.0" font-size="17.0" fill="#111" textLength="28.0" lengthAdjust="spacingAndGlyphs">Shc</text>
<ellipse cx="611.0" cy="387.5" rx="23.2" ry="13.0" fill="url(#eg28)" stroke="#6f62a8" stroke-width="1"/>
<text x="593.5" y="394.8" font-size="17.0" fill="#111" textLength="36.0" lengthAdjust="spacingAndGlyphs">PI3K</text>
<line x1="612.0" y1="403.0" x2="612.0" y2="446.5" stroke="#f320e6" stroke-width="1.8" stroke-linecap="butt"/>
<polygon points="612.0,454.0 608.8,446.0 615.2,446.0" fill="#f320e6"/>
<ellipse cx="611.0" cy="476.8" rx="23.2" ry="13.0" fill="url(#eg29)" stroke="#6f62a8" stroke-width="1"/>
<text x="599.0" y="482.6" font-size="17.0" fill="#111" textLength="25.0" lengthAdjust="spacingAndGlyphs">Akt</text>
<line x1="613.2" y1="504.0" x2="613.2" y2="577.5" stroke="#f320e6" stroke-width="1.8" stroke-linecap="butt"/>
<polygon points="613.2,585.0 610.0,577.0 616.4,577.0" fill="#f320e6"/>
<ellipse cx="708.8" cy="375.5" rx="23.2" ry="13.0" fill="url(#eg30)" stroke="#c2561c" stroke-width="1"/>
<text x="696.5" y="381.5" font-size="17.0" fill="#111" textLength="27.0" lengthAdjust="spacingAndGlyphs">Ras</text>
<line x1="708.4" y1="392.5" x2="708.4" y2="418.0" stroke="#f0781e" stroke-width="1.8" stroke-linecap="butt"/>
<polygon points="708.4,425.5 705.4,417.5 711.4,417.5" fill="#f0781e"/>
<ellipse cx="706.8" cy="440.5" rx="21.2" ry="13.0" fill="url(#eg31)" stroke="#c2561c" stroke-width="1"/>
<text x="694.5" y="446.5" font-size="17.0" fill="#111" textLength="25.5" lengthAdjust="spacingAndGlyphs">Raf</text>
<line x1="708.4" y1="455.0" x2="708.4" y2="480.5" stroke="#f0781e" stroke-width="1.8" stroke-linecap="butt"/>
<polygon points="708.4,488.0 705.4,480.0 711.4,480.0" fill="#f0781e"/>
<ellipse cx="708.8" cy="504.3" rx="23.2" ry="13.0" fill="url(#eg32)" stroke="#c2561c" stroke-width="1"/>
<text x="689.5" y="510.3" font-size="17.0" fill="#111" textLength="46.5" lengthAdjust="spacingAndGlyphs">MAPK</text>
<line x1="709.0" y1="524.0" x2="709.0" y2="576.0" stroke="#f0781e" stroke-width="1.7" stroke-linecap="butt"/>
<polygon points="709.0,582.5 706.3,575.5 711.7,575.5" fill="#f0781e"/>
<text x="348.8" y="617.5" font-size="15.6" fill="#1a1a1a" textLength="37.5" lengthAdjust="spacingAndGlyphs">Bcl-2</text>
<text x="404.0" y="617.5" font-size="15.6" fill="#1a1a1a" textLength="39.0" lengthAdjust="spacingAndGlyphs">IFN-γ</text>
<text x="461.0" y="617.5" font-size="15.6" fill="#1a1a1a" textLength="43.5" lengthAdjust="spacingAndGlyphs">TNF-α</text>
<text x="523.0" y="617.5" font-size="15.6" fill="#1a1a1a" textLength="42.5" lengthAdjust="spacingAndGlyphs">c-Myc</text>
<text x="585.0" y="617.5" font-size="15.6" fill="#1a1a1a" textLength="39.5" lengthAdjust="spacingAndGlyphs">Mcl-1</text>
<text x="644.0" y="617.5" font-size="15.6" fill="#1a1a1a" textLength="45.0" lengthAdjust="spacingAndGlyphs">NF-kB</text>
<text x="706.5" y="617.5" font-size="15.6" fill="#1a1a1a" textLength="35.5" lengthAdjust="spacingAndGlyphs">et al.</text>
<text x="388.0" y="617.5" font-size="15.6" fill="#1a1a1a">,</text>
<text x="445.0" y="617.5" font-size="15.6" fill="#1a1a1a">,</text>
<text x="506.5" y="617.5" font-size="15.6" fill="#1a1a1a">,</text>
<text x="567.5" y="617.5" font-size="15.6" fill="#1a1a1a">,</text>
<text x="626.5" y="617.5" font-size="15.6" fill="#1a1a1a">,</text>
<text x="691.0" y="617.5" font-size="15.6" fill="#1a1a1a">,</text>
<path d="M412.0 655.8 V640.8M419.6 652.7 V643.9M434.8 642.7 V653.9M442.4 640.5 V656.1M450.0 642.0 V654.6M465.2 651.8 V644.8M472.8 655.5 V641.1M480.4 655.8 V640.8M488.0 652.5 V644.1M503.2 642.6 V654.0M510.8 640.5 V656.1M518.4 642.1 V654.5M533.6 651.9 V644.7M541.2 655.5 V641.1M548.8 655.7 V640.9M556.4 652.4 V644.2M571.6 642.5 V654.1M579.2 640.5 V656.1M586.8 642.2 V654.4M602.0 652.1 V644.5M609.6 655.6 V641.0M617.2 655.7 V640.9M624.8 652.3 V644.3M640.0 642.4 V654.2M647.6 640.5 V656.1M655.2 642.3 V654.3M670.4 652.2 V644.4M678.0 655.6 V641.0" stroke="#5ec6dd" stroke-width="1.6" fill="none"/>
<polyline points="408.0,640.5 409.5,640.5 411.0,640.6 412.5,640.9 414.0,641.3 415.5,641.9 417.0,642.5 418.5,643.3 420.0,644.2 421.5,645.2 423.1,646.2 424.6,647.2 426.1,648.3 427.6,649.4 429.1,650.5 430.6,651.5 432.1,652.4 433.6,653.3 435.1,654.1 436.6,654.8 438.1,655.3 439.6,655.7 441.1,656.0 442.6,656.1 444.1,656.1 445.6,655.9 447.1,655.6 448.6,655.1 450.2,654.5 451.7,653.8 453.2,653.0 454.7,652.1 456.2,651.1 457.7,650.0 459.2,649.0 460.7,647.9 462.2,646.8 463.7,645.8 465.2,644.8 466.7,643.9 468.2,643.0 469.7,642.3 471.2,641.6 472.7,641.1 474.2,640.8 475.7,640.6 477.3,640.5 478.8,640.6 480.3,640.8 481.8,641.2 483.3,641.7 484.8,642.3 486.3,643.1 487.8,643.9 489.3,644.9 490.8,645.9 492.3,646.9 493.8,648.0 495.3,649.1 496.8,650.1 498.3,651.2 499.8,652.1 501.3,653.0 502.8,653.9 504.4,654.6 505.9,655.1 507.4,655.6 508.9,655.9 510.4,656.1 511.9,656.1 513.4,656.0 514.9,655.7 516.4,655.3 517.9,654.7 519.4,654.0 520.9,653.2 522.4,652.3 523.9,651.4 525.4,650.4 526.9,649.3 528.4,648.2 529.9,647.1 531.5,646.1 533.0,645.1 534.5,644.1 536.0,643.3 537.5,642.5 539.0,641.8 540.5,641.3 542.0,640.9 543.5,640.6 545.0,640.5 546.5,640.5 548.0,640.7 549.5,641.1 551.0,641.5 552.5,642.1 554.0,642.8 555.5,643.7 557.0,644.6 558.5,645.6 560.1,646.6 561.6,647.7 563.1,648.8 564.6,649.8 566.1,650.9 567.6,651.9 569.1,652.8 570.6,653.6 572.1,654.4 573.6,655.0 575.1,655.5 576.6,655.8 578.1,656.0 579.6,656.1 581.1,656.0 582.6,655.8 584.1,655.4 585.6,654.9 587.2,654.2 588.7,653.5 590.2,652.6 591.7,651.7 593.2,650.7 594.7,649.6 596.2,648.6 597.7,647.5 599.2,646.4 600.7,645.4 602.2,644.4 603.7,643.5 605.2,642.7 606.7,642.0 608.2,641.4 609.7,641.0 611.2,640.7 612.7,640.5 614.3,640.5 615.8,640.7 617.3,640.9 618.8,641.4 620.3,641.9 621.8,642.6 623.3,643.4 624.8,644.3 626.3,645.3 627.8,646.3 629.3,647.3 630.8,648.4 632.3,649.5 633.8,650.6 635.3,651.6 636.8,652.5 638.3,653.4 639.8,654.2 641.4,654.8 642.9,655.3 644.4,655.7 645.9,656.0 647.4,656.1 648.9,656.1 650.4,655.9 651.9,655.5 653.4,655.0 654.9,654.4 656.4,653.7 657.9,652.9 659.4,652.0 660.9,651.0 662.4,649.9 663.9,648.9 665.4,647.8 666.9,646.7 668.5,645.7 670.0,644.7 671.5,643.8 673.0,642.9 674.5,642.2 676.0,641.6 677.5,641.1 679.0,640.8 680.5,640.6 682.0,640.5" fill="none" stroke="#2a86c8" stroke-width="2.6"/>
<polyline points="408.0,656.1 409.5,656.1 411.0,656.0 412.5,655.7 414.0,655.3 415.5,654.7 417.0,654.1 418.5,653.3 420.0,652.4 421.5,651.4 423.1,650.4 424.6,649.4 426.1,648.3 427.6,647.2 429.1,646.1 430.6,645.1 432.1,644.2 433.6,643.3 435.1,642.5 436.6,641.8 438.1,641.3 439.6,640.9 441.1,640.6 442.6,640.5 444.1,640.5 445.6,640.7 447.1,641.0 448.6,641.5 450.2,642.1 451.7,642.8 453.2,643.6 454.7,644.5 456.2,645.5 457.7,646.6 459.2,647.6 460.7,648.7 462.2,649.8 463.7,650.8 465.2,651.8 466.7,652.7 468.2,653.6 469.7,654.3 471.2,655.0 472.7,655.5 474.2,655.8 475.7,656.0 477.3,656.1 478.8,656.0 480.3,655.8 481.8,655.4 483.3,654.9 484.8,654.3 486.3,653.5 487.8,652.7 489.3,651.7 490.8,650.7 492.3,649.7 493.8,648.6 495.3,647.5 496.8,646.5 498.3,645.4 499.8,644.5 501.3,643.6 502.8,642.7 504.4,642.0 505.9,641.5 507.4,641.0 508.9,640.7 510.4,640.5 511.9,640.5 513.4,640.6 514.9,640.9 516.4,641.3 517.9,641.9 519.4,642.6 520.9,643.4 522.4,644.3 523.9,645.2 525.4,646.2 526.9,647.3 528.4,648.4 529.9,649.5 531.5,650.5 533.0,651.5 534.5,652.5 536.0,653.3 537.5,654.1 539.0,654.8 540.5,655.3 542.0,655.7 543.5,656.0 545.0,656.1 546.5,656.1 548.0,655.9 549.5,655.5 551.0,655.1 552.5,654.5 554.0,653.8 555.5,652.9 557.0,652.0 558.5,651.0 560.1,650.0 561.6,648.9 563.1,647.8 564.6,646.8 566.1,645.7 567.6,644.7 569.1,643.8 570.6,643.0 572.1,642.2 573.6,641.6 575.1,641.1 576.6,640.8 578.1,640.6 579.6,640.5 581.1,640.6 582.6,640.8 584.1,641.2 585.6,641.7 587.2,642.4 588.7,643.1 590.2,644.0 591.7,644.9 593.2,645.9 594.7,647.0 596.2,648.0 597.7,649.1 599.2,650.2 600.7,651.2 602.2,652.2 603.7,653.1 605.2,653.9 606.7,654.6 608.2,655.2 609.7,655.6 611.2,655.9 612.7,656.1 614.3,656.1 615.8,655.9 617.3,655.7 618.8,655.2 620.3,654.7 621.8,654.0 623.3,653.2 624.8,652.3 626.3,651.3 627.8,650.3 629.3,649.3 630.8,648.2 632.3,647.1 633.8,646.0 635.3,645.0 636.8,644.1 638.3,643.2 639.8,642.4 641.4,641.8 642.9,641.3 644.4,640.9 645.9,640.6 647.4,640.5 648.9,640.5 650.4,640.7 651.9,641.1 653.4,641.6 654.9,642.2 656.4,642.9 657.9,643.7 659.4,644.6 660.9,645.6 662.4,646.7 663.9,647.7 665.4,648.8 666.9,649.9 668.5,650.9 670.0,651.9 671.5,652.8 673.0,653.7 674.5,654.4 676.0,655.0 677.5,655.5 679.0,655.8 680.5,656.0 682.0,656.1" fill="none" stroke="#25b4d3" stroke-width="2.6"/>
<line x1="556.3" y1="773.0" x2="556.3" y2="801.3" stroke="#222" stroke-width="1.5" stroke-linecap="butt"/>
<polygon points="556.3,807.8 553.3,800.8 559.3,800.8" fill="#222"/>
<line x1="314.4" y1="813.6" x2="819.8" y2="813.6" stroke="#222" stroke-width="1.5" stroke-linecap="butt"/>
<line x1="315.2" y1="813.6" x2="315.2" y2="841.4" stroke="#222" stroke-width="1.5" stroke-linecap="butt"/>
<polygon points="315.2,848.4 312.0,840.9 318.4,840.9" fill="#222"/>
<line x1="819.0" y1="813.6" x2="819.0" y2="841.6" stroke="#222" stroke-width="1.5" stroke-linecap="butt"/>
<polygon points="819.0,848.6 815.8,841.1 822.2,841.1" fill="#222"/>
<rect x="212" y="847" width="217.2" height="54.4" fill="#dba8cd"/>
<rect x="705" y="850.7" width="233.4" height="52" fill="#dba8cd"/>
<line x1="81.3" y1="902.4" x2="523.8" y2="902.4" stroke="#222" stroke-width="1.5" stroke-linecap="butt"/>
<line x1="82.0" y1="902.4" x2="82.0" y2="934.0" stroke="#222" stroke-width="1.5" stroke-linecap="butt"/>
<line x1="250.2" y1="902.4" x2="250.2" y2="939.4" stroke="#222" stroke-width="1.5" stroke-linecap="butt"/>
<line x1="387.6" y1="902.4" x2="387.6" y2="939.4" stroke="#222" stroke-width="1.5" stroke-linecap="butt"/>
<line x1="523.0" y1="902.4" x2="523.0" y2="939.4" stroke="#222" stroke-width="1.5" stroke-linecap="butt"/>
<line x1="661.6" y1="903.3" x2="975.8" y2="903.3" stroke="#222" stroke-width="1.5" stroke-linecap="butt"/>
<line x1="662.3" y1="903.3" x2="662.3" y2="935.0" stroke="#222" stroke-width="1.5" stroke-linecap="butt"/>
<line x1="814.0" y1="903.3" x2="814.0" y2="935.8" stroke="#222" stroke-width="1.5" stroke-linecap="butt"/>
<line x1="975.0" y1="903.3" x2="975.0" y2="937.8" stroke="#222" stroke-width="1.5" stroke-linecap="butt"/>
<text x="230.0" y="880.2" font-size="19.4" fill="#231a20" textLength="42.5" lengthAdjust="spacingAndGlyphs">IL-15</text>
<text x="273.2" y="881.4" font-size="20" fill="#231a20" textLength="140">与先天免疫细胞</text>
<text x="720.7" y="883.4" font-size="19.4" fill="#231a20" textLength="42.5" lengthAdjust="spacingAndGlyphs">IL-15</text>
<text x="763.8" y="884.6" font-size="20" fill="#231a20" textLength="159.6">与适应性免疫细胞</text>
<text x="61.0" y="1057.5" font-size="19.0" fill="#111" font-weight="bold" textLength="25.5" lengthAdjust="spacingAndGlyphs">NK</text>
<text x="96.3" y="1059.5" font-size="19.9" fill="#111" font-weight="bold" textLength="39.8">细胞</text>
<text x="185.0" y="1059.3" font-size="19.8" fill="#111" font-weight="bold" textLength="98.8">中性粒细胞</text>
<text x="340.3" y="1061.5" font-size="19.5" fill="#111" font-weight="bold" textLength="77.9">巨噬细胞</text>
<text x="471.7" y="1061.5" font-size="19.8" fill="#111" font-weight="bold" textLength="99.2">树突状细胞</text>
<text x="639.0" y="1063.0" font-size="19.0" fill="#111" font-weight="bold" textLength="11.5" lengthAdjust="spacingAndGlyphs">T</text>
<text x="655.6" y="1064.2" font-size="19.5" fill="#111" font-weight="bold" textLength="39">细胞</text>
<text x="745.0" y="1064.2" font-size="19.5" fill="#111" font-weight="bold" textLength="38.8">记忆</text>
<text x="783.6" y="1063.0" font-size="19.0" fill="#111" font-weight="bold" textLength="47.0" lengthAdjust="spacingAndGlyphs">CD8+</text>
<text x="836.6" y="1063.0" font-size="19.0" fill="#111" font-weight="bold" textLength="11.5" lengthAdjust="spacingAndGlyphs">T</text>
<text x="853.2" y="1064.2" font-size="19.5" fill="#111" font-weight="bold" textLength="39">细胞</text>
<text x="947.6" y="1063.0" font-size="19.0" fill="#111" font-weight="bold" textLength="12.5" lengthAdjust="spacingAndGlyphs">B</text>
<text x="965.0" y="1064.2" font-size="19" fill="#111" font-weight="bold" textLength="37.9">细胞</text>
<g opacity="0.9">
<ellipse cx="741.5" cy="1110.5" rx="13.8" ry="11.4" fill="#b4b4b4"/>
<path d="M733 1119 L731 1126 L739 1121Z" fill="#b4b4b4"/>
<ellipse cx="753.5" cy="1120.5" rx="12.4" ry="10.2" fill="#b4b4b4" stroke="#ffffff" stroke-width="1.6"/>
<path d="M760 1128.5 L764.5 1133.5 L756.5 1130Z" fill="#b4b4b4"/>
<circle cx="736.6" cy="1107.0" r="1.9" fill="#fff"/>
<circle cx="746.4" cy="1107.0" r="1.9" fill="#fff"/>
<circle cx="749.4" cy="1117.8" r="1.6" fill="#fff"/>
<circle cx="757.6" cy="1117.8" r="1.6" fill="#fff"/>
</g>
<text x="777.0" y="1128.5" font-size="27.5" fill="#ffffff" opacity="0.9" stroke="#ffffff" stroke-width="2.2" paint-order="stroke" textLength="82.2">公众号</text>
<text x="777.0" y="1128.5" font-size="27.5" fill="#b2b2b2" opacity="0.95" stroke="#b2b2b2" stroke-width="0.5" paint-order="stroke" textLength="82.2">公众号</text>
<circle cx="881.5" cy="1119.5" r="2.4" fill="#b2b2b2"/>
<text x="899.4" y="1129.0" font-size="28.5" fill="#ffffff" opacity="0.9" stroke="#ffffff" stroke-width="2.2" paint-order="stroke" textLength="146.5">凯莱英药闻</text>
<text x="899.4" y="1129.0" font-size="28.5" fill="#b2b2b2" opacity="0.95" stroke="#b2b2b2" stroke-width="0.5" paint-order="stroke" textLength="146.5">凯莱英药闻</text>
<text x="38.6" y="1101.2" font-size="17" fill="#1c1c1c" textLength="119">促进增殖、存活</text>
<text x="47.0" y="1120.8" font-size="17" fill="#1c1c1c" textLength="102.5">增强杀伤功能</text>
<text x="192.0" y="1101.2" font-size="17" fill="#1c1c1c" textLength="85">延迟凋亡、</text>
<text x="183.8" y="1120.8" font-size="17" fill="#1c1c1c" textLength="101">增强吞噬作用</text>
<text x="328.6" y="1104.6" font-size="17" fill="#1c1c1c" textLength="100.8">增强吞噬作用</text>
<text x="479.0" y="1104.6" font-size="17" fill="#1c1c1c" textLength="84.5">活化、成熟</text>
<text x="623.6" y="1105.4" font-size="17" fill="#1c1c1c" textLength="85">促进增殖、</text>
<text x="624.4" y="1124.0" font-size="17" fill="#1c1c1c" textLength="84.2">活化、分化</text>
<text x="777.2" y="1105.4" font-size="17" fill="#1c1c1c" textLength="84.2">维持存活和</text>
<text x="785.6" y="1124.0" font-size="17" fill="#1c1c1c" textLength="67.5">稳态增殖</text>
<text x="916.0" y="1105.0" font-size="17" fill="#1c1c1c" textLength="118.5">促进增殖、分化</text>
<text x="898.7" y="1124.0" font-size="17" fill="#1c1c1c" textLength="151.9">刺激分泌免疫球蛋白</text>
<polygon points="116.6,1000.0 117.0,1000.6 117.7,1001.3 118.7,1002.0 119.9,1002.7 118.6,1003.3 117.5,1003.8 116.6,1004.3 116.2,1004.8 116.4,1005.5 117.0,1006.3 117.8,1007.1 118.9,1008.1 117.5,1008.4 116.3,1008.7 115.4,1009.0 114.8,1009.5 114.9,1010.2 115.4,1011.0 116.1,1012.0 116.9,1013.2 115.5,1013.2 114.3,1013.3 113.3,1013.5 112.7,1013.8 112.7,1014.5 112.9,1015.4 113.4,1016.6 114.0,1017.8 112.6,1017.6 111.4,1017.5 110.4,1017.4 109.8,1017.7 109.6,1018.3 109.7,1019.3 110.0,1020.5 110.3,1021.9 109.0,1021.4 107.9,1021.0 106.9,1020.8 106.2,1020.9 105.9,1021.6 105.8,1022.5 105.9,1023.7 106.0,1025.2 104.8,1024.4 103.7,1023.9 102.8,1023.5 102.1,1023.5 101.7,1024.1 101.4,1025.0 101.2,1026.2 101.1,1027.6 100.0,1026.7 99.1,1025.9 98.3,1025.4 97.6,1025.2 97.1,1025.7 96.7,1026.6 96.3,1027.7 95.8,1029.1 95.0,1028.0 94.2,1027.1 93.5,1026.4 92.8,1026.1 92.2,1026.5 91.7,1027.3 91.1,1028.3 90.4,1029.6 89.7,1028.3 89.1,1027.3 88.6,1026.5 88.0,1026.1 87.3,1026.4 86.6,1027.1 85.8,1028.0 85.0,1029.1 84.5,1027.7 84.1,1026.6 83.7,1025.7 83.2,1025.2 82.5,1025.4 81.7,1025.9 80.8,1026.7 79.7,1027.6 79.6,1026.2 79.4,1025.0 79.1,1024.1 78.7,1023.5 78.0,1023.5 77.1,1023.9 76.0,1024.4 74.8,1025.2 74.9,1023.7 75.0,1022.5 74.9,1021.6 74.6,1020.9 73.9,1020.8 72.9,1021.0 71.8,1021.4 70.5,1021.9 70.8,1020.5 71.1,1019.3 71.2,1018.3 71.0,1017.7 70.4,1017.4 69.4,1017.5 68.2,1017.6 66.8,1017.8 67.4,1016.6 67.9,1015.4 68.1,1014.5 68.1,1013.8 67.5,1013.5 66.5,1013.3 65.3,1013.2 63.9,1013.2 64.7,1012.0 65.4,1011.0 65.9,1010.2 66.0,1009.5 65.4,1009.0 64.5,1008.7 63.3,1008.4 61.9,1008.1 63.0,1007.1 63.8,1006.3 64.4,1005.5 64.6,1004.8 64.2,1004.3 63.3,1003.8 62.2,1003.3 60.9,1002.7 62.1,1002.0 63.1,1001.3 63.8,1000.6 64.2,1000.0 63.8,999.4 63.1,998.7 62.1,998.0 60.9,997.3 62.2,996.7 63.3,996.2 64.2,995.7 64.6,995.2 64.4,994.5 63.8,993.7 63.0,992.9 61.9,991.9 63.3,991.6 64.5,991.3 65.4,991.0 66.0,990.5 65.9,989.8 65.4,989.0 64.7,988.0 63.9,986.8 65.3,986.8 66.5,986.7 67.5,986.5 68.1,986.2 68.1,985.5 67.9,984.6 67.4,983.4 66.8,982.2 68.2,982.4 69.4,982.5 70.4,982.6 71.0,982.3 71.2,981.7 71.1,980.7 70.8,979.5 70.5,978.1 71.8,978.6 72.9,979.0 73.9,979.2 74.6,979.1 74.9,978.4 75.0,977.5 74.9,976.3 74.8,974.8 76.0,975.6 77.1,976.1 78.0,976.5 78.7,976.5 79.1,975.9 79.4,975.0 79.6,973.8 79.7,972.4 80.8,973.3 81.7,974.1 82.5,974.6 83.2,974.8 83.7,974.3 84.1,973.4 84.5,972.3 85.0,970.9 85.8,972.0 86.6,972.9 87.3,973.6 88.0,973.9 88.6,973.5 89.1,972.7 89.7,971.7 90.4,970.4 91.1,971.7 91.7,972.7 92.2,973.5 92.8,973.9 93.5,973.6 94.2,972.9 95.0,972.0 95.8,970.9 96.3,972.3 96.7,973.4 97.1,974.3 97.6,974.8 98.3,974.6 99.1,974.1 100.0,973.3 101.1,972.4 101.2,973.8 101.4,975.0 101.7,975.9 102.1,976.5 102.8,976.5 103.7,976.1 104.8,975.6 106.0,974.8 105.9,976.3 105.8,977.5 105.9,978.4 106.2,979.1 106.9,979.2 107.9,979.0 109.0,978.6 110.3,978.1 110.0,979.5 109.7,980.7 109.6,981.7 109.8,982.3 110.4,982.6 111.4,982.5 112.6,982.4 114.0,982.2 113.4,983.4 112.9,984.6 112.7,985.5 112.7,986.2 113.3,986.5 114.3,986.7 115.5,986.8 116.9,986.8 116.1,988.0 115.4,989.0 114.9,989.8 114.8,990.5 115.4,991.0 116.3,991.3 117.5,991.6 118.9,991.9 117.8,992.9 117.0,993.7 116.4,994.5 116.2,995.2 116.6,995.7 117.5,996.2 118.6,996.7 119.9,997.3 118.7,998.0 117.7,998.7 117.0,999.4" fill="url(#cg99)" stroke="#9fd09c" stroke-width="0.9" stroke-linejoin="round"/>
<path d="M114.0 988.5 Q117.5 983.6 121.7 979.6 Q116.6 982.4 111.0 984.5" fill="#d9f1d4" stroke="#9fd09c" stroke-width="0.9" stroke-linejoin="round"/>
<path d="M115.5 1005.8 Q121.7 1006.7 127.5 1008.5 Q122.3 1005.3 117.5 1001.2" fill="#d9f1d4" stroke="#9fd09c" stroke-width="0.9" stroke-linejoin="round"/>
<path d="M68.7 1015.8 Q66.1 1021.1 62.9 1025.8 Q67.3 1022.2 72.3 1019.2" fill="#d9f1d4" stroke="#9fd09c" stroke-width="0.9" stroke-linejoin="round"/>
<path d="M63.3 999.3 Q59.6 1003.2 55.4 1006.3 Q60.3 1004.6 65.7 1003.7" fill="#d9f1d4" stroke="#9fd09c" stroke-width="0.9" stroke-linejoin="round"/>
<ellipse cx="95.8" cy="995.4" rx="18.2" ry="13.6" transform="rotate(42 95.8 995.4)" fill="url(#cg100)" stroke="#a9d6a4" stroke-width="0.8"/>
<circle cx="74.3" cy="986.8" r="1.3" fill="#e3f4df" stroke="#9ccf9a" stroke-width="0.7"/>
<circle cx="76.7" cy="992.0" r="1.3" fill="#e3f4df" stroke="#9ccf9a" stroke-width="0.7"/>
<circle cx="69.3" cy="998.0" r="1.3" fill="#e3f4df" stroke="#9ccf9a" stroke-width="0.7"/>
<circle cx="75.2" cy="1003.8" r="1.3" fill="#e3f4df" stroke="#9ccf9a" stroke-width="0.7"/>
<circle cx="76.0" cy="1011.0" r="1.3" fill="#e3f4df" stroke="#9ccf9a" stroke-width="0.7"/>
<circle cx="79.5" cy="1019.6" r="1.3" fill="#e3f4df" stroke="#9ccf9a" stroke-width="0.7"/>
<circle cx="88.5" cy="1019.8" r="1.3" fill="#e3f4df" stroke="#9ccf9a" stroke-width="0.7"/>
<circle cx="100.4" cy="1010.0" r="1.3" fill="#e3f4df" stroke="#9ccf9a" stroke-width="0.7"/>
<circle cx="107.0" cy="985.0" r="1.3" fill="#e3f4df" stroke="#9ccf9a" stroke-width="0.7"/>
<circle cx="115.5" cy="1002.7" r="1.3" fill="#e3f4df" stroke="#9ccf9a" stroke-width="0.7"/>
<circle cx="102.5" cy="1019.4" r="1.3" fill="#e3f4df" stroke="#9ccf9a" stroke-width="0.7"/>
<circle cx="82.5" cy="1004.5" r="1.3" fill="#e3f4df" stroke="#9ccf9a" stroke-width="0.7"/>
<circle cx="87.0" cy="1007.5" r="1.3" fill="#e3f4df" stroke="#9ccf9a" stroke-width="0.7"/>
<circle cx="91.5" cy="1013.5" r="1.3" fill="#e3f4df" stroke="#9ccf9a" stroke-width="0.7"/>
<path d="M277.7 1000.8C277.9 1002.5 278.4 1004.4 278.2 1006.1C278.0 1007.8 277.0 1009.4 276.5 1011.0C276.0 1012.7 275.8 1014.5 275.1 1016.2C274.4 1017.8 273.6 1019.5 272.4 1020.7C271.2 1021.9 269.2 1022.6 267.8 1023.6C266.3 1024.6 265.0 1025.4 263.8 1026.7C262.6 1028.1 262.1 1030.7 260.7 1031.6C259.2 1032.4 256.9 1031.7 255.1 1032.0C253.4 1032.2 251.8 1032.5 250.1 1033.1C248.4 1033.7 246.7 1035.7 245.0 1035.8C243.3 1035.9 241.6 1034.2 239.8 1033.8C238.0 1033.4 236.0 1034.2 234.3 1033.6C232.7 1033.1 231.4 1031.5 229.8 1030.6C228.3 1029.7 226.4 1029.4 225.1 1028.2C223.8 1027.1 223.3 1025.0 222.1 1023.7C220.8 1022.5 218.9 1021.9 217.6 1020.7C216.3 1019.5 214.9 1018.1 214.2 1016.5C213.4 1014.9 213.6 1012.9 213.1 1011.2C212.6 1009.4 211.5 1007.9 211.2 1006.2C210.8 1004.4 210.7 1002.5 211.0 1000.8C211.3 999.1 213.0 997.5 213.2 995.8C213.4 994.0 212.1 991.9 212.4 990.2C212.7 988.5 213.9 986.9 214.9 985.5C215.9 984.0 217.1 982.7 218.4 981.5C219.6 980.2 221.3 979.5 222.3 978.1C223.4 976.7 223.4 974.0 224.7 972.8C225.9 971.6 228.2 971.8 229.8 971.0C231.5 970.3 232.8 969.1 234.4 968.3C236.1 967.6 237.8 966.9 239.6 966.6C241.3 966.3 243.2 966.7 245.0 966.7C246.8 966.6 248.7 966.0 250.4 966.5C252.1 966.9 253.6 968.6 255.3 969.2C257.0 969.9 259.1 969.4 260.6 970.1C262.2 970.9 263.1 972.8 264.6 973.8C266.1 974.8 268.2 975.1 269.6 976.2C271.0 977.3 272.3 978.8 273.0 980.4C273.7 982.1 273.3 984.4 273.8 986.1C274.2 987.9 275.2 989.2 275.8 990.8C276.4 992.4 276.9 994.0 277.2 995.7C277.6 997.4 277.6 999.1 277.7 1000.8Z" fill="url(#cg101)" stroke="#d98ab1" stroke-width="1.0" stroke-linejoin="round"/>
<g fill="url(#cg102)" stroke="#c9669b" stroke-width="0.6">
<path d="M247 988.5 Q254 987 259 989 L259.5 992.5 Q254 990.5 247.5 992.5Z"/>
<path d="M228.5 999 Q224 1008 228 1016 L232 1013 Q229 1007 232.5 1001Z"/>
<ellipse cx="237.5" cy="992.3" rx="10.6" ry="10"/>
<ellipse cx="264" cy="996" rx="7" ry="9.6" transform="rotate(-25 264 996)"/>
<ellipse cx="236" cy="1015.6" rx="10" ry="6" transform="rotate(14 236 1015.6)"/>
</g>
<ellipse cx="237.5" cy="992.3" rx="9.6" ry="9" fill="url(#cg102)"/>
<circle cx="238.8" cy="975.0" r="0.9" fill="#c873a0"/>
<circle cx="250.5" cy="980.0" r="0.9" fill="#c873a0"/>
<circle cx="254.0" cy="984.5" r="0.9" fill="#c873a0"/>
<circle cx="250.0" cy="986.5" r="0.9" fill="#c873a0"/>
<circle cx="224.5" cy="989.0" r="0.9" fill="#c873a0"/>
<circle cx="218.0" cy="1007.0" r="0.9" fill="#c873a0"/>
<circle cx="255.0" cy="996.0" r="0.9" fill="#c873a0"/>
<circle cx="253.5" cy="1005.0" r="0.9" fill="#c873a0"/>
<circle cx="249.5" cy="1011.5" r="0.9" fill="#c873a0"/>
<circle cx="266.0" cy="1007.0" r="0.9" fill="#c873a0"/>
<circle cx="255.0" cy="1018.0" r="0.9" fill="#c873a0"/>
<circle cx="261.5" cy="1022.5" r="0.9" fill="#c873a0"/>
<circle cx="232.5" cy="1025.0" r="0.9" fill="#c873a0"/>
<circle cx="246.5" cy="1005.0" r="0.9" fill="#c873a0"/>
<circle cx="265.5" cy="982.0" r="0.9" fill="#c873a0"/>
<path d="M367.5 966.3C369.2 965.8 374.3 968.4 377.5 968.8C380.7 969.1 384.0 968.0 386.7 968.3C389.4 968.6 391.3 970.3 393.8 970.6C396.3 970.9 399.6 969.7 401.7 970.0C403.8 970.3 404.7 972.0 406.6 972.5C408.6 972.9 412.3 971.6 413.3 972.5C414.3 973.4 412.5 976.3 412.6 977.6C412.8 979.0 413.8 979.1 414.2 980.8C414.6 982.5 414.2 985.6 414.9 987.7C415.6 989.8 418.0 991.5 418.3 993.3C418.6 995.1 416.8 996.8 416.8 998.4C416.8 1000.1 417.9 1002.0 418.3 1003.3C418.7 1004.6 418.2 1005.3 418.9 1006.4C419.6 1007.5 422.8 1008.9 422.5 1010.0C422.2 1011.1 418.6 1011.7 417.3 1012.8C416.1 1013.9 416.0 1015.5 415.0 1016.7C414.0 1017.9 412.1 1018.6 411.3 1020.0C410.5 1021.3 411.3 1024.0 410.0 1025.0C408.7 1026.0 405.2 1025.2 403.3 1025.9C401.3 1026.6 400.2 1028.8 398.3 1029.2C396.4 1029.6 394.1 1028.3 392.2 1028.5C390.2 1028.8 388.5 1030.5 386.7 1030.8C384.9 1031.1 383.3 1029.9 381.5 1030.2C379.7 1030.5 377.1 1032.1 375.8 1032.5C374.5 1032.9 374.4 1032.2 373.5 1032.8C372.5 1033.3 370.7 1036.1 370.0 1035.8C369.3 1035.5 369.9 1032.0 369.5 1030.7C369.1 1029.5 368.3 1029.6 367.5 1028.3C366.7 1027.0 365.8 1024.5 364.4 1023.1C363.0 1021.7 360.1 1021.2 359.2 1020.0C358.3 1018.8 359.7 1017.0 359.3 1015.9C358.8 1014.8 357.5 1014.1 356.7 1013.3C355.9 1012.5 355.6 1011.7 354.4 1011.2C353.1 1010.6 349.5 1010.9 349.2 1010.0C348.9 1009.1 352.1 1007.0 352.7 1005.6C353.4 1004.3 352.9 1003.2 353.3 1001.7C353.7 1000.2 355.1 998.6 355.2 996.9C355.4 995.2 353.7 993.4 354.2 991.7C354.7 990.0 357.2 988.7 358.0 986.9C358.9 985.1 358.3 982.2 359.2 980.8C360.1 979.4 362.2 979.7 363.2 978.6C364.1 977.5 364.4 975.4 365.0 974.2C365.6 973.0 366.6 972.8 367.1 971.5C367.5 970.2 365.8 966.8 367.5 966.3Z" fill="url(#cg103)" stroke="#a9a5d8" stroke-width="1.0" stroke-linejoin="round"/>
<g filter="url(#bl1)" fill="#e6e5fa" opacity="0.9">
<circle cx="366.5" cy="982.0" r="2.7"/>
<circle cx="411.4" cy="991.4" r="2.9"/>
<circle cx="410.8" cy="1005.6" r="2.9"/>
<circle cx="369.2" cy="978.2" r="1.8"/>
<circle cx="362.7" cy="1005.6" r="2.4"/>
<circle cx="366.2" cy="991.1" r="1.9"/>
<circle cx="380.8" cy="1028.9" r="2.7"/>
<circle cx="400.8" cy="1024.2" r="1.8"/>
<circle cx="369.1" cy="985.6" r="1.6"/>
<circle cx="402.2" cy="984.0" r="1.9"/>
<circle cx="413.9" cy="997.9" r="2.0"/>
<circle cx="411.0" cy="994.8" r="2.5"/>
<circle cx="394.0" cy="1028.4" r="2.6"/>
<circle cx="413.6" cy="995.1" r="2.0"/>
<circle cx="371.1" cy="1018.7" r="1.8"/>
<circle cx="408.1" cy="1010.6" r="2.4"/>
</g>
<ellipse cx="384.2" cy="1000" rx="18" ry="17.6" transform="rotate(-30 384.2 1000)" fill="url(#cg104)" stroke="#9f9bcb" stroke-width="0.7"/>
<polygon points="517.5,979.6 516.7,976.9 515.8,974.4 514.8,972.0 513.9,969.8 512.9,967.7 511.9,965.8 510.8,964.1 509.8,962.4 508.7,960.9 507.7,959.5 506.3,960.5 507.1,961.9 507.7,963.5 508.2,965.2 508.6,967.0 508.8,969.0 508.9,971.0 509.0,973.2 508.9,975.5 508.7,977.9 508.5,980.4" fill="#8bb6c4" stroke="#4d7f8d" stroke-width="0.9" stroke-linejoin="round"/>
<polygon points="522.8,978.3 522.5,977.2 522.3,976.2 522.2,975.2 522.2,974.2 522.2,973.3 522.3,972.4 522.5,971.5 522.8,970.7 523.1,969.9 523.6,969.2 522.4,968.2 521.7,968.9 521.0,969.6 520.4,970.3 519.7,971.2 519.0,972.1 518.4,973.1 517.8,974.1 517.3,975.2 516.7,976.4 516.2,977.7" fill="#8bb6c4" stroke="#4d7f8d" stroke-width="0.9" stroke-linejoin="round"/>
<polygon points="538.2,990.3 540.1,989.8 542.0,989.2 543.7,988.5 545.3,987.8 546.8,987.0 548.1,986.1 549.3,985.2 550.4,984.3 551.4,983.3 552.3,982.2 551.1,981.2 550.2,982.0 549.2,982.6 548.1,983.2 546.9,983.6 545.6,983.9 544.2,984.0 542.7,984.1 541.2,984.1 539.5,983.9 537.8,983.7" fill="#8bb6c4" stroke="#4d7f8d" stroke-width="0.9" stroke-linejoin="round"/>
<polygon points="538.7,1008.9 541.1,1008.9 543.3,1008.8 545.5,1008.6 547.5,1008.2 549.3,1007.6 551.1,1006.9 552.7,1006.1 554.1,1005.2 555.5,1004.2 556.8,1003.1 555.8,1001.9 554.5,1002.6 553.1,1003.2 551.7,1003.4 550.3,1003.5 548.8,1003.4 547.3,1003.1 545.9,1002.6 544.4,1001.9 542.9,1001.1 541.3,1000.1" fill="#8bb6c4" stroke="#4d7f8d" stroke-width="0.9" stroke-linejoin="round"/>
<polygon points="535.2,1013.5 535.9,1013.4 536.5,1013.4 537.2,1013.5 537.9,1013.6 538.6,1013.8 539.3,1014.1 540.0,1014.5 540.7,1015.0 541.3,1015.6 541.8,1016.2 543.2,1015.4 542.7,1014.5 542.3,1013.7 541.8,1012.9 541.3,1012.1 540.9,1011.3 540.3,1010.5 539.8,1009.7 539.2,1009.0 538.5,1008.2 537.8,1007.5" fill="#8bb6c4" stroke="#4d7f8d" stroke-width="0.9" stroke-linejoin="round"/>
<polygon points="529.4,1016.0 530.7,1016.8 532.0,1017.6 533.0,1018.5 534.0,1019.4 534.7,1020.4 535.3,1021.5 535.8,1022.6 536.0,1023.9 536.1,1025.2 535.9,1026.5 537.5,1026.9 537.8,1025.4 538.1,1023.9 538.2,1022.3 538.1,1020.8 537.9,1019.2 537.4,1017.6 536.8,1015.9 535.9,1014.3 534.9,1012.6 533.6,1011.0" fill="#8bb6c4" stroke="#4d7f8d" stroke-width="0.9" stroke-linejoin="round"/>
<polygon points="518.3,1014.7 518.0,1015.8 517.6,1016.9 517.3,1018.0 517.0,1019.1 516.6,1020.2 516.2,1021.2 515.8,1022.3 515.3,1023.3 514.9,1024.4 514.3,1025.4 515.7,1026.2 516.3,1025.3 517.1,1024.4 517.8,1023.6 518.6,1022.8 519.4,1022.0 520.2,1021.2 521.1,1020.5 522.0,1019.7 522.8,1019.0 523.7,1018.3" fill="#8bb6c4" stroke="#4d7f8d" stroke-width="0.9" stroke-linejoin="round"/>
<polygon points="506.4,1009.7 505.4,1012.0 504.5,1014.2 503.7,1016.4 503.0,1018.5 502.4,1020.7 501.9,1022.7 501.5,1024.8 501.1,1026.8 500.8,1028.7 500.5,1030.7 502.1,1030.9 502.6,1029.2 503.3,1027.4 504.1,1025.7 505.1,1024.1 506.2,1022.5 507.5,1020.9 508.9,1019.5 510.3,1018.0 511.9,1016.6 513.6,1015.3" fill="#8bb6c4" stroke="#4d7f8d" stroke-width="0.9" stroke-linejoin="round"/>
<polygon points="502.6,1001.0 500.9,1002.2 499.2,1003.3 497.6,1004.3 496.0,1005.2 494.4,1006.1 492.9,1006.8 491.5,1007.5 490.1,1008.0 488.7,1008.5 487.4,1008.8 487.6,1010.4 489.0,1010.2 490.5,1010.0 492.1,1009.8 493.8,1009.5 495.5,1009.2 497.3,1008.9 499.2,1008.5 501.2,1008.1 503.2,1007.6 505.4,1007.0" fill="#8bb6c4" stroke="#4d7f8d" stroke-width="0.9" stroke-linejoin="round"/>
<polygon points="502.5,995.2 501.2,995.8 499.9,996.3 498.6,996.8 497.4,997.2 496.1,997.5 494.8,997.8 493.5,998.1 492.2,998.3 490.9,998.4 489.6,998.4 489.6,1000.0 490.9,1000.1 492.2,1000.3 493.5,1000.5 494.9,1000.7 496.2,1000.9 497.6,1001.1 499.1,1001.3 500.5,1001.5 502.0,1001.6 503.5,1001.8" fill="#8bb6c4" stroke="#4d7f8d" stroke-width="0.9" stroke-linejoin="round"/>
<polygon points="508.1,986.0 505.3,985.2 502.6,984.8 500.0,984.6 497.5,984.6 495.1,984.9 492.9,985.4 490.7,986.1 488.7,987.0 486.8,988.1 485.0,989.3 485.8,990.7 487.7,989.7 489.5,989.1 491.4,988.9 493.3,988.9 495.1,989.1 496.9,989.6 498.7,990.4 500.4,991.4 502.2,992.6 503.9,994.0" fill="#8bb6c4" stroke="#4d7f8d" stroke-width="0.9" stroke-linejoin="round"/>
<ellipse cx="521.7" cy="997.5" rx="19.6" ry="20.6" fill="#8bb6c4" stroke="#4d7f8d" stroke-width="0.9"/>
<circle cx="514.6" cy="983.1" r="2.1" fill="#8bb6c4"/>
<circle cx="519.9" cy="981.5" r="2.1" fill="#8bb6c4"/>
<circle cx="535.1" cy="988.9" r="2.1" fill="#8bb6c4"/>
<circle cx="536.7" cy="1003.2" r="2.1" fill="#8bb6c4"/>
<circle cx="533.8" cy="1008.2" r="2.1" fill="#8bb6c4"/>
<circle cx="529.7" cy="1010.6" r="2.1" fill="#8bb6c4"/>
<circle cx="521.1" cy="1013.1" r="2.1" fill="#8bb6c4"/>
<circle cx="512.1" cy="1009.8" r="2.1" fill="#8bb6c4"/>
<circle cx="507.2" cy="1002.8" r="2.1" fill="#8bb6c4"/>
<circle cx="506.4" cy="998.3" r="2.1" fill="#8bb6c4"/>
<circle cx="508.8" cy="991.3" r="2.1" fill="#8bb6c4"/>
<ellipse cx="517" cy="989" rx="11" ry="8" fill="#a9cfd9" opacity="0.7" filter="url(#bl2)"/>
<ellipse cx="522.9" cy="1002" rx="13.8" ry="8" transform="rotate(-22 522.9 1002)" fill="url(#cg105)" stroke="#356b85" stroke-width="0.7"/>
<line x1="656.7" y1="969.4" x2="657.7" y2="965.4" stroke="#6fb791" stroke-width="4.6" stroke-linecap="round"/>
<line x1="672.3" y1="968.3" x2="675.0" y2="965.2" stroke="#6fb791" stroke-width="4.6" stroke-linecap="round"/>
<line x1="692.1" y1="980.2" x2="696.2" y2="979.7" stroke="#6fb791" stroke-width="4.6" stroke-linecap="round"/>
<line x1="645.2" y1="976.1" x2="644.4" y2="972.0" stroke="#6fb791" stroke-width="4.6" stroke-linecap="round"/>
<line x1="638.3" y1="984.9" x2="636.2" y2="981.3" stroke="#6fb791" stroke-width="4.6" stroke-linecap="round"/>
<line x1="634.9" y1="995.0" x2="631.7" y2="992.3" stroke="#6fb791" stroke-width="4.6" stroke-linecap="round"/>
<line x1="634.6" y1="1002.2" x2="630.9" y2="1000.4" stroke="#6fb791" stroke-width="4.6" stroke-linecap="round"/>
<line x1="635.9" y1="1009.4" x2="631.9" y2="1008.4" stroke="#6fb791" stroke-width="4.6" stroke-linecap="round"/>
<line x1="642.0" y1="1020.7" x2="637.9" y2="1021.3" stroke="#6fb791" stroke-width="4.6" stroke-linecap="round"/>
<line x1="647.3" y1="1025.7" x2="643.5" y2="1027.2" stroke="#6fb791" stroke-width="4.6" stroke-linecap="round"/>
<line x1="669.5" y1="1032.1" x2="667.7" y2="1035.8" stroke="#6fb791" stroke-width="4.6" stroke-linecap="round"/>
<line x1="698.2" y1="1006.7" x2="701.2" y2="1009.5" stroke="#6fb791" stroke-width="4.6" stroke-linecap="round"/>
<line x1="696.1" y1="1013.1" x2="698.5" y2="1016.5" stroke="#6fb791" stroke-width="4.6" stroke-linecap="round"/>
<circle cx="666.7" cy="1000.0" r="33.2" fill="#c6ecd9" stroke="#6fb791" stroke-width="1.2"/>
<line x1="657.1" y1="970.3" x2="657.7" y2="965.4" stroke="#c6ecd9" stroke-width="3.0" stroke-linecap="round"/>
<line x1="672.1" y1="969.3" x2="675.0" y2="965.2" stroke="#c6ecd9" stroke-width="3.0" stroke-linecap="round"/>
<line x1="691.3" y1="980.8" x2="696.2" y2="979.7" stroke="#c6ecd9" stroke-width="3.0" stroke-linecap="round"/>
<line x1="645.8" y1="976.8" x2="644.4" y2="972.0" stroke="#c6ecd9" stroke-width="3.0" stroke-linecap="round"/>
<line x1="639.2" y1="985.4" x2="636.2" y2="981.3" stroke="#c6ecd9" stroke-width="3.0" stroke-linecap="round"/>
<line x1="635.9" y1="995.1" x2="631.7" y2="992.3" stroke="#c6ecd9" stroke-width="3.0" stroke-linecap="round"/>
<line x1="635.6" y1="1002.2" x2="630.9" y2="1000.4" stroke="#c6ecd9" stroke-width="3.0" stroke-linecap="round"/>
<line x1="636.9" y1="1009.1" x2="631.9" y2="1008.4" stroke="#c6ecd9" stroke-width="3.0" stroke-linecap="round"/>
<line x1="642.8" y1="1020.1" x2="637.9" y2="1021.3" stroke="#c6ecd9" stroke-width="3.0" stroke-linecap="round"/>
<line x1="647.9" y1="1024.9" x2="643.5" y2="1027.2" stroke="#c6ecd9" stroke-width="3.0" stroke-linecap="round"/>
<line x1="669.4" y1="1031.1" x2="667.7" y2="1035.8" stroke="#c6ecd9" stroke-width="3.0" stroke-linecap="round"/>
<line x1="697.2" y1="1006.5" x2="701.2" y2="1009.5" stroke="#c6ecd9" stroke-width="3.0" stroke-linecap="round"/>
<line x1="695.2" y1="1012.7" x2="698.5" y2="1016.5" stroke="#c6ecd9" stroke-width="3.0" stroke-linecap="round"/>
<circle cx="667.5" cy="1001.2" r="28.2" fill="none" stroke="#e6f6ee" stroke-width="4.5"/>
<circle cx="669.2" cy="1004.2" r="24.5" fill="url(#cg106)" stroke="#7cc09b" stroke-width="0.7"/>
<path d="M801.7 966.3C803.0 966.0 806.6 968.4 808.8 968.7C811.0 969.1 812.9 968.1 815.0 968.3C817.1 968.5 819.3 970.0 821.5 970.0C823.7 970.1 826.0 968.6 828.3 968.8C830.6 969.0 832.8 971.0 835.4 971.5C838.1 972.0 842.9 970.8 844.2 971.7C845.5 972.6 843.3 975.5 843.5 976.8C843.6 978.2 844.6 978.7 845.0 980.0C845.4 981.3 845.1 983.4 845.8 984.8C846.5 986.2 848.8 986.8 849.2 988.3C849.6 989.8 848.0 991.9 848.1 993.6C848.3 995.2 849.7 996.7 850.0 998.3C850.3 999.9 849.6 1001.4 850.2 1003.1C850.7 1004.8 853.6 1007.0 853.3 1008.3C853.0 1009.6 849.7 1009.7 848.6 1010.7C847.5 1011.7 847.6 1013.1 846.7 1014.2C845.8 1015.3 843.8 1016.1 843.0 1017.5C842.2 1018.8 843.0 1021.5 841.7 1022.5C840.4 1023.5 836.9 1022.7 835.0 1023.4C833.0 1024.1 831.9 1026.3 830.0 1026.7C828.1 1027.1 825.8 1025.8 823.8 1026.0C821.9 1026.3 820.0 1028.0 818.3 1028.3C816.6 1028.6 815.2 1027.4 813.5 1027.7C811.9 1028.0 809.5 1029.6 808.3 1030.0C807.1 1030.4 807.2 1029.4 806.3 1029.8C805.5 1030.3 803.9 1032.8 803.3 1032.5C802.7 1032.2 803.2 1028.9 802.8 1027.8C802.3 1026.7 801.6 1026.9 800.8 1025.8C800.0 1024.7 799.1 1022.2 797.7 1020.9C796.3 1019.7 793.4 1019.4 792.5 1018.3C791.6 1017.2 793.0 1015.3 792.5 1014.2C792.1 1013.1 790.7 1012.5 790.0 1011.7C789.3 1010.9 789.2 1010.1 788.1 1009.5C786.9 1008.9 783.5 1009.2 783.3 1008.3C783.1 1007.4 786.2 1005.3 786.9 1003.9C787.6 1002.5 787.1 1001.6 787.5 1000.0C787.9 998.4 789.2 996.3 789.4 994.4C789.5 992.4 787.8 990.0 788.3 988.3C788.8 986.6 791.3 986.0 792.1 984.5C792.9 983.0 792.4 980.5 793.3 979.2C794.2 977.9 796.3 977.8 797.3 976.6C798.3 975.3 798.5 972.7 799.2 971.7C799.9 970.7 800.8 971.2 801.2 970.3C801.6 969.4 800.4 966.6 801.7 966.3Z" fill="url(#cg107)" stroke="#93d080" stroke-width="1.0" stroke-linejoin="round"/>
<g filter="url(#bl1)" fill="#e4f7dd" opacity="0.9">
<circle cx="821.9" cy="1025.5" r="1.8"/>
<circle cx="812.0" cy="978.3" r="1.9"/>
<circle cx="840.3" cy="998.9" r="2.5"/>
<circle cx="795.1" cy="1005.0" r="2.3"/>
<circle cx="827.2" cy="1023.3" r="1.7"/>
<circle cx="820.1" cy="1020.0" r="2.0"/>
<circle cx="795.9" cy="1013.5" r="2.1"/>
<circle cx="835.0" cy="1013.8" r="3.0"/>
<circle cx="840.8" cy="1008.5" r="2.1"/>
<circle cx="805.8" cy="979.5" r="2.6"/>
<circle cx="793.1" cy="999.4" r="2.9"/>
<circle cx="799.0" cy="988.3" r="1.7"/>
<circle cx="840.6" cy="991.0" r="1.9"/>
<circle cx="841.1" cy="990.9" r="2.6"/>
</g>
<circle cx="834.3" cy="983.8" r="0.6" fill="#86c274"/>
<circle cx="801.2" cy="1020.2" r="0.6" fill="#86c274"/>
<circle cx="835.3" cy="1018.6" r="0.6" fill="#86c274"/>
<circle cx="838.9" cy="1013.7" r="0.6" fill="#86c274"/>
<circle cx="809.8" cy="972.6" r="0.6" fill="#86c274"/>
<circle cx="831.3" cy="979.0" r="0.6" fill="#86c274"/>
<circle cx="824.8" cy="1019.1" r="0.6" fill="#86c274"/>
<circle cx="794.3" cy="994.7" r="0.6" fill="#86c274"/>
<circle cx="842.5" cy="1010.8" r="0.6" fill="#86c274"/>
<circle cx="792.4" cy="997.8" r="0.6" fill="#86c274"/>
<circle cx="822.1" cy="1020.6" r="0.6" fill="#86c274"/>
<circle cx="840.7" cy="1000.7" r="0.6" fill="#86c274"/>
<circle cx="815.5" cy="1022.3" r="0.6" fill="#86c274"/>
<circle cx="798.9" cy="1017.6" r="0.6" fill="#86c274"/>
<circle cx="834.6" cy="985.5" r="0.6" fill="#86c274"/>
<circle cx="801.0" cy="1011.9" r="0.6" fill="#86c274"/>
<circle cx="803.6" cy="975.2" r="0.6" fill="#86c274"/>
<circle cx="825.8" cy="1023.9" r="0.6" fill="#86c274"/>
<ellipse cx="816.7" cy="998.3" rx="17.4" ry="18.4" transform="rotate(20 816.7 998.3)" fill="url(#cg108)" stroke="#74bb60" stroke-width="0.7"/>
<line x1="954.3" y1="974.8" x2="953.3" y2="970.5" stroke="#e98fb0" stroke-width="4.2" stroke-linecap="round"/>
<line x1="977.4" y1="968.2" x2="980.0" y2="964.6" stroke="#e98fb0" stroke-width="4.2" stroke-linecap="round"/>
<line x1="981.5" y1="969.0" x2="984.5" y2="965.8" stroke="#e98fb0" stroke-width="4.2" stroke-linecap="round"/>
<line x1="987.2" y1="971.4" x2="990.8" y2="968.8" stroke="#e98fb0" stroke-width="4.2" stroke-linecap="round"/>
<line x1="997.5" y1="980.5" x2="1001.9" y2="979.9" stroke="#e98fb0" stroke-width="4.2" stroke-linecap="round"/>
<line x1="1001.1" y1="987.4" x2="1005.5" y2="987.9" stroke="#e98fb0" stroke-width="4.2" stroke-linecap="round"/>
<line x1="1001.9" y1="1005.2" x2="1005.2" y2="1008.1" stroke="#e98fb0" stroke-width="4.2" stroke-linecap="round"/>
<line x1="999.4" y1="1011.4" x2="1002.0" y2="1015.0" stroke="#e98fb0" stroke-width="4.2" stroke-linecap="round"/>
<line x1="993.1" y1="1019.5" x2="994.2" y2="1023.8" stroke="#e98fb0" stroke-width="4.2" stroke-linecap="round"/>
<line x1="984.4" y1="1024.9" x2="984.0" y2="1029.4" stroke="#e98fb0" stroke-width="4.2" stroke-linecap="round"/>
<line x1="968.2" y1="1026.7" x2="965.5" y2="1030.2" stroke="#e98fb0" stroke-width="4.2" stroke-linecap="round"/>
<line x1="962.2" y1="1024.9" x2="958.9" y2="1027.8" stroke="#e98fb0" stroke-width="4.2" stroke-linecap="round"/>
<line x1="952.4" y1="1018.4" x2="948.2" y2="1019.8" stroke="#e98fb0" stroke-width="4.2" stroke-linecap="round"/>
<line x1="943.8" y1="1000.1" x2="939.7" y2="998.4" stroke="#e98fb0" stroke-width="4.2" stroke-linecap="round"/>
<line x1="945.5" y1="987.4" x2="942.5" y2="984.1" stroke="#e98fb0" stroke-width="4.2" stroke-linecap="round"/>
<line x1="947.7" y1="1012.3" x2="943.2" y2="1012.5" stroke="#e98fb0" stroke-width="4.2" stroke-linecap="round"/>
<circle cx="973.3" cy="997.5" r="30.6" fill="#f8c9da" stroke="#e98fb0" stroke-width="1.1"/>
<line x1="954.9" y1="975.6" x2="953.3" y2="970.5" stroke="#f8c9da" stroke-width="2.6" stroke-linecap="round"/>
<line x1="977.3" y1="969.2" x2="980.0" y2="964.6" stroke="#f8c9da" stroke-width="2.6" stroke-linecap="round"/>
<line x1="981.2" y1="970.0" x2="984.5" y2="965.8" stroke="#f8c9da" stroke-width="2.6" stroke-linecap="round"/>
<line x1="986.7" y1="972.2" x2="990.8" y2="968.8" stroke="#f8c9da" stroke-width="2.6" stroke-linecap="round"/>
<line x1="996.7" y1="981.1" x2="1001.9" y2="979.9" stroke="#f8c9da" stroke-width="2.6" stroke-linecap="round"/>
<line x1="1000.2" y1="987.7" x2="1005.5" y2="987.9" stroke="#f8c9da" stroke-width="2.6" stroke-linecap="round"/>
<line x1="1000.9" y1="1004.9" x2="1005.2" y2="1008.1" stroke="#f8c9da" stroke-width="2.6" stroke-linecap="round"/>
<line x1="998.6" y1="1010.9" x2="1002.0" y2="1015.0" stroke="#f8c9da" stroke-width="2.6" stroke-linecap="round"/>
<line x1="992.4" y1="1018.8" x2="994.2" y2="1023.8" stroke="#f8c9da" stroke-width="2.6" stroke-linecap="round"/>
<line x1="984.0" y1="1024.0" x2="984.0" y2="1029.4" stroke="#f8c9da" stroke-width="2.6" stroke-linecap="round"/>
<line x1="968.3" y1="1025.7" x2="965.5" y2="1030.2" stroke="#f8c9da" stroke-width="2.6" stroke-linecap="round"/>
<line x1="962.6" y1="1024.0" x2="958.9" y2="1027.8" stroke="#f8c9da" stroke-width="2.6" stroke-linecap="round"/>
<line x1="953.1" y1="1017.7" x2="948.2" y2="1019.8" stroke="#f8c9da" stroke-width="2.6" stroke-linecap="round"/>
<line x1="944.8" y1="1000.0" x2="939.7" y2="998.4" stroke="#f8c9da" stroke-width="2.6" stroke-linecap="round"/>
<line x1="946.4" y1="987.7" x2="942.5" y2="984.1" stroke="#f8c9da" stroke-width="2.6" stroke-linecap="round"/>
<line x1="948.5" y1="1011.8" x2="943.2" y2="1012.5" stroke="#f8c9da" stroke-width="2.6" stroke-linecap="round"/>
<circle cx="973.3" cy="998.1" r="26.2" fill="none" stroke="#fbe3ec" stroke-width="3.6"/>
<circle cx="973.3" cy="998.3" r="23.2" fill="url(#cg109)" stroke="#ea8fb0" stroke-width="0.7"/></svg></body></html>
